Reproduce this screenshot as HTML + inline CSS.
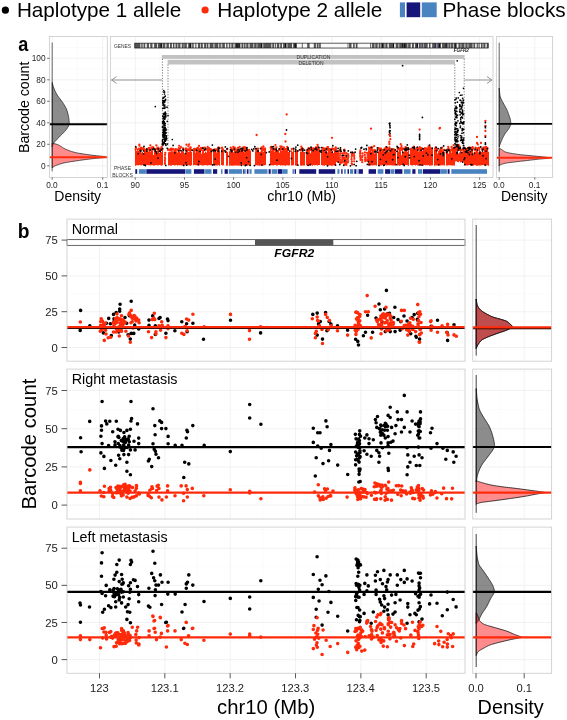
<!DOCTYPE html>
<html><head><meta charset="utf-8"><style>
html,body{margin:0;padding:0;background:#fff;width:567px;height:720px;overflow:hidden;}
svg{display:block;will-change:transform;}
text{font-family:"Liberation Sans", sans-serif;}
</style></head><body>
<svg width="567" height="720" viewBox="0 0 567 720" font-family='"Liberation Sans", sans-serif'>
<rect x="0" y="0" width="567" height="720" fill="#fff" stroke="none" stroke-width="1" />
<circle cx="5.4" cy="10.2" r="3.6" fill="#000"/>
<text x="16.95" y="17.3" font-size="20.3" font-weight="normal" font-style="normal" fill="#000" textLength="164.38" lengthAdjust="spacingAndGlyphs">Haplotype 1 allele</text>
<circle cx="205.1" cy="10.0" r="3.6" fill="#ff2a0a"/>
<text x="217.34" y="17.3" font-size="20.3" font-weight="normal" font-style="normal" fill="#000" textLength="164.99" lengthAdjust="spacingAndGlyphs">Haplotype 2 allele</text>
<rect x="399.9" y="2.4" width="5.1" height="14.8" fill="#4a84c0" stroke="none" stroke-width="1" />
<rect x="406.6" y="2.4" width="13.6" height="14.8" fill="#16167a" stroke="none" stroke-width="1" />
<rect x="421.8" y="2.4" width="14.9" height="14.8" fill="#4a84c0" stroke="none" stroke-width="1" />
<text x="442.44" y="17.1" font-size="20.3" font-weight="normal" font-style="normal" fill="#000" textLength="123.24" lengthAdjust="spacingAndGlyphs">Phase blocks</text>
<rect x="49.4" y="36.5" width="57.9" height="141" fill="#fff" stroke="none" stroke-width="1" />
<line x1="49.4" y1="155.05" x2="107.3" y2="155.05" stroke="#f3f3f3" stroke-width="0.7" stroke-dasharray="1,1"/>
<line x1="49.4" y1="133.55" x2="107.3" y2="133.55" stroke="#f3f3f3" stroke-width="0.7" stroke-dasharray="1,1"/>
<line x1="49.4" y1="112.05" x2="107.3" y2="112.05" stroke="#f3f3f3" stroke-width="0.7" stroke-dasharray="1,1"/>
<line x1="49.4" y1="90.55" x2="107.3" y2="90.55" stroke="#f3f3f3" stroke-width="0.7" stroke-dasharray="1,1"/>
<line x1="49.4" y1="69.05" x2="107.3" y2="69.05" stroke="#f3f3f3" stroke-width="0.7" stroke-dasharray="1,1"/>
<line x1="49.4" y1="47.55" x2="107.3" y2="47.55" stroke="#f3f3f3" stroke-width="0.7" stroke-dasharray="1,1"/>
<line x1="49.4" y1="165.8" x2="107.3" y2="165.8" stroke="#ececec" stroke-width="0.7" />
<line x1="49.4" y1="144.3" x2="107.3" y2="144.3" stroke="#ececec" stroke-width="0.7" />
<line x1="49.4" y1="122.8" x2="107.3" y2="122.8" stroke="#ececec" stroke-width="0.7" />
<line x1="49.4" y1="101.3" x2="107.3" y2="101.3" stroke="#ececec" stroke-width="0.7" />
<line x1="49.4" y1="79.8" x2="107.3" y2="79.8" stroke="#ececec" stroke-width="0.7" />
<line x1="49.4" y1="58.3" x2="107.3" y2="58.3" stroke="#ececec" stroke-width="0.7" />
<line x1="77.45" y1="36.5" x2="77.45" y2="177.5" stroke="#f3f3f3" stroke-width="0.7" stroke-dasharray="1,1"/>
<line x1="52.2" y1="36.5" x2="52.2" y2="177.5" stroke="#ececec" stroke-width="0.7" />
<line x1="102.7" y1="36.5" x2="102.7" y2="177.5" stroke="#ececec" stroke-width="0.7" />
<rect x="110.4" y="36.5" width="382.6" height="141" fill="#fff" stroke="none" stroke-width="1" />
<line x1="110.4" y1="155.05" x2="493" y2="155.05" stroke="#f3f3f3" stroke-width="0.7" stroke-dasharray="1,1"/>
<line x1="110.4" y1="133.55" x2="493" y2="133.55" stroke="#f3f3f3" stroke-width="0.7" stroke-dasharray="1,1"/>
<line x1="110.4" y1="112.05" x2="493" y2="112.05" stroke="#f3f3f3" stroke-width="0.7" stroke-dasharray="1,1"/>
<line x1="110.4" y1="90.55" x2="493" y2="90.55" stroke="#f3f3f3" stroke-width="0.7" stroke-dasharray="1,1"/>
<line x1="110.4" y1="69.05" x2="493" y2="69.05" stroke="#f3f3f3" stroke-width="0.7" stroke-dasharray="1,1"/>
<line x1="110.4" y1="47.55" x2="493" y2="47.55" stroke="#f3f3f3" stroke-width="0.7" stroke-dasharray="1,1"/>
<line x1="110.4" y1="165.8" x2="493" y2="165.8" stroke="#ececec" stroke-width="0.7" />
<line x1="110.4" y1="144.3" x2="493" y2="144.3" stroke="#ececec" stroke-width="0.7" />
<line x1="110.4" y1="122.8" x2="493" y2="122.8" stroke="#ececec" stroke-width="0.7" />
<line x1="110.4" y1="101.3" x2="493" y2="101.3" stroke="#ececec" stroke-width="0.7" />
<line x1="110.4" y1="79.8" x2="493" y2="79.8" stroke="#ececec" stroke-width="0.7" />
<line x1="110.4" y1="58.3" x2="493" y2="58.3" stroke="#ececec" stroke-width="0.7" />
<line x1="110.65" y1="36.5" x2="110.65" y2="177.5" stroke="#f3f3f3" stroke-width="0.7" stroke-dasharray="1,1"/>
<line x1="159.85" y1="36.5" x2="159.85" y2="177.5" stroke="#f3f3f3" stroke-width="0.7" stroke-dasharray="1,1"/>
<line x1="209.05" y1="36.5" x2="209.05" y2="177.5" stroke="#f3f3f3" stroke-width="0.7" stroke-dasharray="1,1"/>
<line x1="258.25" y1="36.5" x2="258.25" y2="177.5" stroke="#f3f3f3" stroke-width="0.7" stroke-dasharray="1,1"/>
<line x1="307.45" y1="36.5" x2="307.45" y2="177.5" stroke="#f3f3f3" stroke-width="0.7" stroke-dasharray="1,1"/>
<line x1="356.65" y1="36.5" x2="356.65" y2="177.5" stroke="#f3f3f3" stroke-width="0.7" stroke-dasharray="1,1"/>
<line x1="405.85" y1="36.5" x2="405.85" y2="177.5" stroke="#f3f3f3" stroke-width="0.7" stroke-dasharray="1,1"/>
<line x1="455.05" y1="36.5" x2="455.05" y2="177.5" stroke="#f3f3f3" stroke-width="0.7" stroke-dasharray="1,1"/>
<line x1="135.25" y1="36.5" x2="135.25" y2="177.5" stroke="#ececec" stroke-width="0.7" />
<line x1="184.45" y1="36.5" x2="184.45" y2="177.5" stroke="#ececec" stroke-width="0.7" />
<line x1="233.65" y1="36.5" x2="233.65" y2="177.5" stroke="#ececec" stroke-width="0.7" />
<line x1="282.85" y1="36.5" x2="282.85" y2="177.5" stroke="#ececec" stroke-width="0.7" />
<line x1="332.05" y1="36.5" x2="332.05" y2="177.5" stroke="#ececec" stroke-width="0.7" />
<line x1="381.25" y1="36.5" x2="381.25" y2="177.5" stroke="#ececec" stroke-width="0.7" />
<line x1="430.45" y1="36.5" x2="430.45" y2="177.5" stroke="#ececec" stroke-width="0.7" />
<line x1="479.65" y1="36.5" x2="479.65" y2="177.5" stroke="#ececec" stroke-width="0.7" />
<rect x="496.4" y="36.5" width="56.2" height="141" fill="#fff" stroke="none" stroke-width="1" />
<line x1="496.4" y1="155.05" x2="552.6" y2="155.05" stroke="#f3f3f3" stroke-width="0.7" stroke-dasharray="1,1"/>
<line x1="496.4" y1="133.55" x2="552.6" y2="133.55" stroke="#f3f3f3" stroke-width="0.7" stroke-dasharray="1,1"/>
<line x1="496.4" y1="112.05" x2="552.6" y2="112.05" stroke="#f3f3f3" stroke-width="0.7" stroke-dasharray="1,1"/>
<line x1="496.4" y1="90.55" x2="552.6" y2="90.55" stroke="#f3f3f3" stroke-width="0.7" stroke-dasharray="1,1"/>
<line x1="496.4" y1="69.05" x2="552.6" y2="69.05" stroke="#f3f3f3" stroke-width="0.7" stroke-dasharray="1,1"/>
<line x1="496.4" y1="47.55" x2="552.6" y2="47.55" stroke="#f3f3f3" stroke-width="0.7" stroke-dasharray="1,1"/>
<line x1="496.4" y1="165.8" x2="552.6" y2="165.8" stroke="#ececec" stroke-width="0.7" />
<line x1="496.4" y1="144.3" x2="552.6" y2="144.3" stroke="#ececec" stroke-width="0.7" />
<line x1="496.4" y1="122.8" x2="552.6" y2="122.8" stroke="#ececec" stroke-width="0.7" />
<line x1="496.4" y1="101.3" x2="552.6" y2="101.3" stroke="#ececec" stroke-width="0.7" />
<line x1="496.4" y1="79.8" x2="552.6" y2="79.8" stroke="#ececec" stroke-width="0.7" />
<line x1="496.4" y1="58.3" x2="552.6" y2="58.3" stroke="#ececec" stroke-width="0.7" />
<line x1="517" y1="36.5" x2="517" y2="177.5" stroke="#f3f3f3" stroke-width="0.7" stroke-dasharray="1,1"/>
<line x1="552.6" y1="36.5" x2="552.6" y2="177.5" stroke="#f3f3f3" stroke-width="0.7" stroke-dasharray="1,1"/>
<line x1="499.2" y1="36.5" x2="499.2" y2="177.5" stroke="#ececec" stroke-width="0.7" />
<line x1="534.8" y1="36.5" x2="534.8" y2="177.5" stroke="#ececec" stroke-width="0.7" />
<line x1="52.2" y1="42.5" x2="52.2" y2="171.3" stroke="#555" stroke-width="0.9"/>
<path d="M52.2,82.5 L52.35,83.08 L52.55,83.87 L52.79,84.81 L53.07,85.85 L53.41,86.93 L53.8,88 L54.24,89.07 L54.72,90.2 L55.26,91.38 L55.84,92.57 L56.49,93.79 L57.2,95 L58.02,96.23 L58.94,97.5 L59.93,98.78 L60.92,100.06 L61.86,101.3 L62.7,102.5 L63.44,103.65 L64.14,104.76 L64.78,105.84 L65.37,106.91 L65.91,107.96 L66.4,109 L66.82,110.04 L67.18,111.07 L67.48,112.09 L67.74,113.09 L67.98,114.06 L68.2,115 L68.4,115.9 L68.57,116.76 L68.71,117.59 L68.82,118.41 L68.92,119.21 L69,120 L69.09,120.78 L69.18,121.54 L69.25,122.28 L69.28,123.02 L69.24,123.76 L69.1,124.5 L68.85,125.26 L68.51,126.04 L68.09,126.81 L67.64,127.57 L67.16,128.31 L66.7,129 L66.25,129.64 L65.78,130.22 L65.3,130.78 L64.8,131.33 L64.26,131.9 L63.7,132.5 L63.08,133.14 L62.41,133.81 L61.72,134.5 L61.02,135.19 L60.34,135.86 L59.7,136.5 L59.1,137.12 L58.52,137.72 L57.96,138.31 L57.42,138.89 L56.9,139.45 L56.4,140 L55.91,140.53 L55.43,141.04 L54.98,141.53 L54.54,142.02 L54.15,142.51 L53.8,143 L53.5,143.52 L53.23,144.07 L53.01,144.62 L52.81,145.15 L52.64,145.62 L52.5,146 L52.39,146.29 L52.31,146.52 L52.27,146.69 L52.24,146.81 L52.22,146.91 L52.2,147 Z" fill="rgba(0,0,0,0.45)" stroke="#1a1a1a" stroke-width="0.7" stroke-linejoin="round"/>
<path d="M52.2,143.2 L52.7,143.31 L53.39,143.46 L54.2,143.63 L55.07,143.83 L55.93,144.06 L56.7,144.3 L57.39,144.56 L58.05,144.84 L58.7,145.14 L59.35,145.47 L60.01,145.82 L60.7,146.2 L61.36,146.61 L61.96,147.04 L62.58,147.5 L63.27,147.98 L64.13,148.48 L65.2,149 L66.49,149.55 L67.94,150.15 L69.54,150.77 L71.29,151.38 L73.18,151.97 L75.2,152.5 L77.4,152.98 L79.81,153.43 L82.36,153.84 L84.98,154.24 L87.61,154.62 L90.2,155 L93.07,155.37 L96.33,155.72 L99.61,156.06 L102.51,156.39 L104.67,156.7 L105.7,157 L105.35,157.28 L103.89,157.54 L101.67,157.78 L99.07,158.02 L96.46,158.26 L94.2,158.5 L92.28,158.74 L90.39,158.96 L88.48,159.19 L86.51,159.43 L84.44,159.69 L82.2,160 L79.68,160.36 L76.9,160.76 L74.01,161.19 L71.16,161.63 L68.51,162.07 L66.2,162.5 L64.24,162.92 L62.5,163.35 L60.95,163.78 L59.57,164.2 L58.33,164.61 L57.2,165 L56.21,165.37 L55.39,165.74 L54.7,166.09 L54.13,166.43 L53.64,166.73 L53.2,167 L52.85,167.24 L52.61,167.44 L52.45,167.62 L52.35,167.78 L52.27,167.9 L52.2,168 Z" fill="rgba(255,0,0,0.45)" stroke="#1a1a1a" stroke-width="0.7" stroke-linejoin="round"/>
<line x1="49.4" y1="124.3" x2="107.3" y2="124.3" stroke="#000" stroke-width="1.9"/>
<line x1="49.4" y1="157.3" x2="107.3" y2="157.3" stroke="#ff2a0a" stroke-width="1.9"/>
<line x1="499.2" y1="42.8" x2="499.2" y2="171.7" stroke="#555" stroke-width="0.9"/>
<path d="M499.2,88 L499.25,88.54 L499.31,89.3 L499.39,90.19 L499.48,91.15 L499.58,92.11 L499.7,93 L499.81,93.81 L499.89,94.58 L499.99,95.36 L500.14,96.16 L500.37,97.03 L500.7,98 L501.19,99.11 L501.81,100.36 L502.51,101.67 L503.23,102.97 L503.91,104.21 L504.5,105.3 L505,106.24 L505.46,107.07 L505.88,107.83 L506.27,108.55 L506.64,109.26 L507,110 L507.33,110.75 L507.63,111.48 L507.91,112.21 L508.18,112.93 L508.44,113.66 L508.7,114.4 L508.97,115.16 L509.25,115.92 L509.52,116.69 L509.77,117.46 L510,118.23 L510.2,119 L510.37,119.78 L510.53,120.58 L510.66,121.37 L510.76,122.16 L510.81,122.9 L510.8,123.6 L510.72,124.24 L510.58,124.85 L510.39,125.42 L510.17,125.96 L509.93,126.49 L509.7,127 L509.48,127.48 L509.25,127.91 L509.01,128.33 L508.75,128.74 L508.45,129.19 L508.1,129.7 L507.68,130.27 L507.2,130.88 L506.69,131.52 L506.16,132.19 L505.66,132.85 L505.2,133.5 L504.79,134.15 L504.39,134.8 L504.02,135.46 L503.66,136.12 L503.32,136.77 L503,137.4 L502.69,138.03 L502.4,138.66 L502.12,139.29 L501.87,139.89 L501.63,140.47 L501.4,141 L501.2,141.48 L501.02,141.91 L500.86,142.32 L500.71,142.71 L500.56,143.1 L500.4,143.5 L500.22,143.93 L500.04,144.39 L499.85,144.84 L499.67,145.28 L499.52,145.67 L499.4,146 L499.32,146.27 L499.27,146.48 L499.24,146.66 L499.22,146.8 L499.21,146.91 L499.2,147 Z" fill="rgba(0,0,0,0.45)" stroke="#1a1a1a" stroke-width="0.7" stroke-linejoin="round"/>
<path d="M499.2,148.3 L499.46,148.43 L499.81,148.6 L500.23,148.81 L500.7,149.04 L501.2,149.31 L501.7,149.6 L502.18,149.93 L502.66,150.32 L503.17,150.73 L503.74,151.15 L504.4,151.55 L505.2,151.9 L506.12,152.21 L507.13,152.49 L508.23,152.75 L509.44,153 L510.76,153.25 L512.2,153.5 L513.63,153.74 L515.03,153.96 L516.54,154.18 L518.31,154.41 L520.48,154.68 L523.2,155 L527.04,155.39 L532,155.85 L537.36,156.34 L542.4,156.84 L546.42,157.3 L548.7,157.7 L548.91,158.03 L547.55,158.33 L545.17,158.59 L542.29,158.84 L539.46,159.07 L537.2,159.3 L535.48,159.52 L533.87,159.72 L532.29,159.91 L530.7,160.09 L529.02,160.29 L527.2,160.5 L525.16,160.73 L522.94,160.99 L520.64,161.24 L518.35,161.5 L516.17,161.76 L514.2,162 L512.42,162.22 L510.76,162.44 L509.2,162.64 L507.76,162.85 L506.42,163.07 L505.2,163.3 L504.09,163.56 L503.09,163.83 L502.2,164.11 L501.42,164.39 L500.76,164.66 L500.2,164.9 L499.79,165.12 L499.53,165.34 L499.39,165.55 L499.31,165.73 L499.26,165.89 L499.2,166 Z" fill="rgba(255,0,0,0.45)" stroke="#1a1a1a" stroke-width="0.7" stroke-linejoin="round"/>
<line x1="496.4" y1="123.9" x2="552.6" y2="123.9" stroke="#000" stroke-width="1.9"/>
<line x1="496.4" y1="157.7" x2="552.6" y2="157.7" stroke="#ff2a0a" stroke-width="1.9"/>
<text x="114.06" y="47.6" font-size="5.2" font-weight="normal" font-style="normal" fill="#333" textLength="17.07" lengthAdjust="spacingAndGlyphs">GENES</text>
<rect x="134.8" y="43.2" width="353.4" height="4.8" fill="#555" stroke="#1a1a1a" stroke-width="0.8"/>
<rect x="296.8" y="43.6" width="5" height="4" fill="#fafafa"/>
<rect x="302.7" y="43.6" width="4.5" height="4" fill="#fafafa"/>
<rect x="309.6" y="43.6" width="4.2" height="4" fill="#fafafa"/>
<rect x="320.8" y="43.6" width="26.8" height="4" fill="#fafafa"/>
<rect x="357.5" y="43.6" width="12.7" height="4" fill="#fafafa"/>
<rect x="140.11" y="43.6" width="1.3" height="4" fill="#bdbdbd"/>
<rect x="142.65" y="43.6" width="0.9" height="4" fill="#f4f4f4"/>
<rect x="145.2" y="43.6" width="1.6" height="4" fill="#f4f4f4"/>
<rect x="148.96" y="43.6" width="1.3" height="4" fill="#f4f4f4"/>
<rect x="152.49" y="43.6" width="1.6" height="4" fill="#f4f4f4"/>
<rect x="157.09" y="43.6" width="0.9" height="4" fill="#f4f4f4"/>
<rect x="160.53" y="43.6" width="1.48" height="4" fill="#111"/>
<rect x="162" y="43.6" width="0.9" height="4" fill="#bdbdbd"/>
<rect x="165.31" y="43.6" width="1.1" height="4" fill="#f4f4f4"/>
<rect x="168.9" y="43.6" width="1.1" height="4" fill="#f4f4f4"/>
<rect x="171.88" y="43.6" width="1.1" height="4" fill="#f4f4f4"/>
<rect x="174.42" y="43.6" width="1.1" height="4" fill="#f4f4f4"/>
<rect x="177.17" y="43.6" width="1.1" height="4" fill="#bdbdbd"/>
<rect x="180.46" y="43.6" width="1.3" height="4" fill="#f4f4f4"/>
<rect x="183.6" y="43.6" width="0.7" height="4" fill="#bdbdbd"/>
<rect x="186.84" y="43.6" width="1.3" height="4" fill="#f4f4f4"/>
<rect x="189.58" y="43.6" width="1.58" height="4" fill="#111"/>
<rect x="191.16" y="43.6" width="1.1" height="4" fill="#bdbdbd"/>
<rect x="193.71" y="43.6" width="1.6" height="4" fill="#f4f4f4"/>
<rect x="196.38" y="43.6" width="1.6" height="4" fill="#f4f4f4"/>
<rect x="200.01" y="43.6" width="0.7" height="4" fill="#f4f4f4"/>
<rect x="202.81" y="43.6" width="1.3" height="4" fill="#f4f4f4"/>
<rect x="206.03" y="43.6" width="0.9" height="4" fill="#bdbdbd"/>
<rect x="208.35" y="43.6" width="1.3" height="4" fill="#f4f4f4"/>
<rect x="213.52" y="43.6" width="0.9" height="4" fill="#f4f4f4"/>
<rect x="218.27" y="43.6" width="0.9" height="4" fill="#f4f4f4"/>
<rect x="220.73" y="43.6" width="1.6" height="4" fill="#bdbdbd"/>
<rect x="224.88" y="43.6" width="1.3" height="4" fill="#f4f4f4"/>
<rect x="227.56" y="43.6" width="1.3" height="4" fill="#f4f4f4"/>
<rect x="229.92" y="43.6" width="1.6" height="4" fill="#bdbdbd"/>
<rect x="233.45" y="43.6" width="1.1" height="4" fill="#f4f4f4"/>
<rect x="236.23" y="43.6" width="1.35" height="4" fill="#111"/>
<rect x="237.58" y="43.6" width="0.86" height="4" fill="#111"/>
<rect x="239.3" y="43.6" width="0.83" height="4" fill="#111"/>
<rect x="240.13" y="43.6" width="1.6" height="4" fill="#bdbdbd"/>
<rect x="243.04" y="43.6" width="1.1" height="4" fill="#bdbdbd"/>
<rect x="245.55" y="43.6" width="0.7" height="4" fill="#f4f4f4"/>
<rect x="248.44" y="43.6" width="1.1" height="4" fill="#f4f4f4"/>
<rect x="253.11" y="43.6" width="1.1" height="4" fill="#bdbdbd"/>
<rect x="256.5" y="43.6" width="0.9" height="4" fill="#bdbdbd"/>
<rect x="260.9" y="43.6" width="1.33" height="4" fill="#111"/>
<rect x="262.23" y="43.6" width="1.1" height="4" fill="#bdbdbd"/>
<rect x="271.38" y="43.6" width="0.9" height="4" fill="#f4f4f4"/>
<rect x="274.2" y="43.6" width="0.9" height="4" fill="#f4f4f4"/>
<rect x="275.97" y="43.6" width="0.9" height="4" fill="#f4f4f4"/>
<rect x="279.28" y="43.6" width="0.9" height="4" fill="#f4f4f4"/>
<rect x="281.97" y="43.6" width="1.1" height="4" fill="#f4f4f4"/>
<rect x="284.97" y="43.6" width="1.04" height="4" fill="#111"/>
<rect x="286.51" y="43.6" width="1.1" height="4" fill="#bdbdbd"/>
<rect x="292.06" y="43.6" width="1.1" height="4" fill="#f4f4f4"/>
<rect x="294.57" y="43.6" width="1.76" height="4" fill="#111"/>
<rect x="315.89" y="43.6" width="0.9" height="4" fill="#f4f4f4"/>
<rect x="318.28" y="43.6" width="0.9" height="4" fill="#bdbdbd"/>
<rect x="348.38" y="43.6" width="0.7" height="4" fill="#f4f4f4"/>
<rect x="351.5" y="43.6" width="1.6" height="4" fill="#f4f4f4"/>
<rect x="354.68" y="43.6" width="1.1" height="4" fill="#f4f4f4"/>
<rect x="371.16" y="43.6" width="0.9" height="4" fill="#f4f4f4"/>
<rect x="374.32" y="43.6" width="1.1" height="4" fill="#bdbdbd"/>
<rect x="377.42" y="43.6" width="1.6" height="4" fill="#bdbdbd"/>
<rect x="380.26" y="43.6" width="0.9" height="4" fill="#bdbdbd"/>
<rect x="381.98" y="43.6" width="1.07" height="4" fill="#111"/>
<rect x="384.34" y="43.6" width="1.1" height="4" fill="#bdbdbd"/>
<rect x="387.54" y="43.6" width="1.3" height="4" fill="#f4f4f4"/>
<rect x="393.01" y="43.6" width="1.14" height="4" fill="#111"/>
<rect x="394.15" y="43.6" width="1.6" height="4" fill="#f4f4f4"/>
<rect x="398.49" y="43.6" width="0.7" height="4" fill="#f4f4f4"/>
<rect x="402.2" y="43.6" width="0.81" height="4" fill="#111"/>
<rect x="403.94" y="43.6" width="1.51" height="4" fill="#111"/>
<rect x="407.32" y="43.6" width="0.9" height="4" fill="#bdbdbd"/>
<rect x="410.66" y="43.6" width="1.3" height="4" fill="#f4f4f4"/>
<rect x="413.93" y="43.6" width="1.1" height="4" fill="#f4f4f4"/>
<rect x="416.69" y="43.6" width="1.3" height="4" fill="#111"/>
<rect x="417.98" y="43.6" width="0.9" height="4" fill="#f4f4f4"/>
<rect x="420.66" y="43.6" width="0.9" height="4" fill="#8a90c8"/>
<rect x="423.31" y="43.6" width="0.7" height="4" fill="#bdbdbd"/>
<rect x="427.7" y="43.6" width="1.3" height="4" fill="#f4f4f4"/>
<rect x="430.54" y="43.6" width="1.6" height="4" fill="#f4f4f4"/>
<rect x="434.91" y="43.6" width="0.92" height="4" fill="#111"/>
<rect x="435.83" y="43.6" width="1.6" height="4" fill="#8a90c8"/>
<rect x="438.8" y="43.6" width="1.29" height="4" fill="#111"/>
<rect x="440.96" y="43.6" width="1.1" height="4" fill="#f4f4f4"/>
<rect x="445.59" y="43.6" width="1.05" height="4" fill="#111"/>
<rect x="447.66" y="43.6" width="0.9" height="4" fill="#bdbdbd"/>
<rect x="450.18" y="43.6" width="0.9" height="4" fill="#bdbdbd"/>
<rect x="453.06" y="43.6" width="0.7" height="4" fill="#f4f4f4"/>
<rect x="454.78" y="43.6" width="1.04" height="4" fill="#111"/>
<rect x="456.8" y="43.6" width="1.6" height="4" fill="#f4f4f4"/>
<rect x="460.5" y="43.6" width="0.9" height="4" fill="#bdbdbd"/>
<rect x="464.23" y="43.6" width="1.3" height="4" fill="#bdbdbd"/>
<rect x="467.43" y="43.6" width="1.1" height="4" fill="#bdbdbd"/>
<rect x="472.34" y="43.6" width="1.3" height="4" fill="#bdbdbd"/>
<rect x="475.09" y="43.6" width="1.6" height="4" fill="#f4f4f4"/>
<rect x="477.82" y="43.6" width="0.7" height="4" fill="#f4f4f4"/>
<rect x="479.68" y="43.6" width="1.3" height="4" fill="#f4f4f4"/>
<rect x="482.41" y="43.6" width="1.1" height="4" fill="#bdbdbd"/>
<rect x="485.42" y="43.6" width="1.3" height="4" fill="#f4f4f4"/>
<text x="453.71" y="51.9" font-size="5.2" font-weight="bold" font-style="italic" fill="#222" textLength="15.25" lengthAdjust="spacingAndGlyphs">FGFR2</text>
<rect x="161.8" y="55" width="302.8" height="3.9" fill="#c2c2c2"/>
<rect x="167.6" y="59.8" width="287.4" height="4.7" fill="#c2c2c2"/>
<text x="296.49" y="58.9" font-size="4.8" font-weight="normal" font-style="normal" fill="#333" textLength="33.83" lengthAdjust="spacingAndGlyphs">DUPLICATION</text>
<text x="298.6" y="64.5" font-size="4.8" font-weight="normal" font-style="normal" fill="#333" textLength="25.01" lengthAdjust="spacingAndGlyphs">DELETION</text>
<line x1="162.4" y1="58.9" x2="162.4" y2="146" stroke="#333" stroke-width="0.7" stroke-dasharray="1.1,1.6"/>
<line x1="168" y1="64.5" x2="168" y2="146" stroke="#333" stroke-width="0.7" stroke-dasharray="1.1,1.6"/>
<line x1="454.8" y1="64.5" x2="454.8" y2="148" stroke="#333" stroke-width="0.7" stroke-dasharray="1.1,1.6"/>
<line x1="464.2" y1="58.9" x2="464.2" y2="148" stroke="#333" stroke-width="0.7" stroke-dasharray="1.1,1.6"/>
<g stroke="#8a8a8a" stroke-width="0.9" fill="none"><line x1="111.5" y1="80" x2="162" y2="80"/><polyline points="116.5,76.6 111.5,80 116.5,83.4"/><line x1="464.5" y1="80" x2="492" y2="80"/><polyline points="487,76.6 492,80 487,83.4"/></g>
<path d="M135.5 149.01V165.65M136.5 151.09V165.33M137.5 148.87V165.13M138.5 150.51V165.36M139.5 149.02V165.07M140.5 148.92V165.21M141.5 152.59V165.49M142.5 151.88V165.03M143.5 153.94V165.46M144.5 150.22V165.43M145.5 150.72V165.37M146.5 150.79V165.04M147.5 150.96V165.02M148.5 151.5V165.32M149.5 148.27V165.36M150.5 151.51V165.45M151.5 148.68V165.32M152.5 150.6V165.19M153.5 154.89V165.59M154.5 150.54V165.5M155.5 150.23V165.2M156.5 151.46V165.05M157.5 150.73V165.59M158.5 149.29V165.27M159.5 153.03V165M160.5 149.94V165.15M161.5 151.84V165.69M162.5 149.82V165.28M168.5 152.24V165.54M169.5 151.41V165.19M170.5 151.6V165.67M171.5 151.21V165.53M172.5 151.32V165.07M173.5 151.26V165.04M174.5 150.84V165.39M175.5 149.82V165.31M176.5 151.37V165.09M177.5 152.56V165.45M178.5 151.61V165.15M179.5 151.51V165.19M180.5 152.91V165.21M181.5 150.17V165.62M182.5 150.92V165.6M183.5 151.86V165.45M184.5 153.76V165.15M185.5 152.91V165.18M186.5 150.76V165.21M187.5 149.45V165.05M188.5 152.05V165.17M189.5 151.52V165.42M190.5 149.61V165.67M191.5 151.63V165.34M193.5 148.27V165.13M194.5 149.42V165.11M195.5 152.61V165.17M196.5 149.29V165.13M197.5 150.39V165.14M198.5 147.52V165.67M199.5 151.91V165.3M200.5 149.41V165.07M201.5 153.84V165.17M202.5 151.4V165.49M203.5 150.49V165.42M204.5 153.02V165.21M205.5 151.54V165.05M206.5 152.45V165.16M207.5 148.23V165.43M208.5 149.67V165.2M209.5 151.36V165.01M210.5 150.16V165.19M211.5 150.17V165.12M213.5 150.75V165.26M214.5 149.98V165.25M215.5 150.3V165.62M216.5 152.49V165.48M217.5 150.37V165.41M218.5 150.82V165.01M219.5 150.87V165.64M221.5 149.59V165.01M222.5 147.42V165.45M223.5 148.51V165.22M226.5 150.83V165.7M227.5 152.05V165.52M229.5 151.34V165.63M230.5 150.44V165.56M231.5 148.58V165.64M232.5 149.42V165.63M233.5 152.19V165.61M234.5 148.61V165.6M235.5 151.74V165.4M236.5 149.7V165.41M237.5 149.7V165.43M238.5 152.23V165.7M239.5 151.5V165.62M240.5 150.42V165.51M241.5 149.32V165.41M242.5 148.29V165.06M243.5 151.51V165.53M244.5 152.33V165.34M245.5 150.93V165.16M246.5 150.11V165.43M247.5 149.16V165.64M248.5 150.59V165.21M249.5 150.8V165.47M250.5 150.83V165.63M255.5 151.36V165.46M256.5 148.04V165.23M257.5 151.58V165.47M258.5 151.04V165.56M259.5 151.91V165.64M260.5 151.53V165.41M261.5 149.72V165.22M262.5 151.6V165.59M263.5 151.75V165.59M264.5 149.83V165.19M265.5 147.51V165.12M270.5 149.61V165.15M271.5 150.92V165.29M272.5 149.53V165.22M273.5 149.52V165.59M274.5 152.02V165.05M275.5 150.44V165.02M276.5 150.86V165.5M277.5 150.33V165.4M278.5 149.77V165.01M279.5 152.75V165.1M280.5 150.32V165.58M281.5 150.68V165.17M282.5 150.86V165.44M283.5 150.91V165.31M284.5 149.3V165.57M285.5 149.22V165.67M286.5 150.25V165.33M287.5 149.81V165.13M288.5 152.07V165.5M289.5 150.7V165.13M291.5 150.43V165.49M292.5 151.79V165.36M293.5 148.96V165.28M295.5 149.16V165.55M296.5 151.06V165.65M297.5 150.29V165.51M300.5 151.58V165.44M301.5 151.64V165.64M302.5 149.39V165.62M303.5 151.78V165.56M304.5 151.96V165.46M306.5 150.1V165.14M307.5 150.18V165.45M308.5 148.24V165.5M309.5 151.24V165.69M310.5 153.32V165.68M311.5 148.36V165.22M312.5 150.07V165.64M313.5 151.34V165.06M314.5 149.65V165.31M315.5 148.49V165.34M316.5 149.91V165.02M317.5 150.77V165.56M318.5 150.16V165.12M319.5 149.43V165.1M321.5 152.57V165.1M322.5 148.53V165.59M323.5 150.38V165.48M324.5 152.03V165.66M325.5 150.09V165.06M326.5 150.88V165.2M327.5 152.16V165.51M328.5 149.58V165.59M329.5 149.39V165.39M330.5 150.12V165.59M331.5 151.78V165.63M332.5 151.26V165.68M333.5 153.05V165.37M334.5 149.82V165.38M335.5 150.21V165.35M368.5 150.36V165.68M369.5 150.41V165.36M370.5 148.7V165.39M371.5 151.97V165.34M372.5 150.43V165.38M373.5 150.15V165.29M374.5 153.44V165.19M375.5 149.81V165.33M376.5 151.57V165.57M378.5 151.59V165.63M379.5 149.48V165.13M380.5 150.77V165.43M381.5 151.21V165.55M382.5 150.29V165.02M383.5 150.92V165.48M384.5 151.48V165.23M385.5 149.49V165.07M386.5 152.03V165.51M387.5 151.71V165.18M388.5 151.68V165.14M389.5 149.23V165.26M390.5 150.34V165.29M391.5 149.85V165.14M392.5 150.46V165.44M393.5 149.57V165.6M394.5 149.38V165.43M395.5 151.19V165.52M397.5 149.86V165.57M398.5 151.53V165.22M399.5 149.95V165.65M400.5 151.53V165.62M401.5 155.16V165.09M402.5 150.74V165.18M403.5 152.69V165.07M404.5 151.27V165.55M405.5 149.42V165.09M406.5 148.98V165.01M407.5 151.73V165.14M408.5 149.42V165.68M410.5 147.99V165.08M411.5 148.41V165.35M412.5 150.52V165.48M413.5 150.79V165.07M414.5 151.06V165.03M415.5 149.12V165.4M416.5 150.1V165.1M417.5 150.95V165.59M418.5 151.4V165.69M419.5 151.12V165.04M420.5 150.34V165.67M421.5 148.45V165.23M422.5 151.12V165.33M423.5 149.23V165.42M424.5 150.47V165.01M425.5 149.84V165.13M426.5 148.21V165.32M427.5 150.51V165.14M428.5 149.28V165.12M429.5 150.37V165.63M430.5 150.58V165.56M431.5 149.87V165.44M432.5 148.12V165.28M434.5 149.35V165.69M435.5 149.7V165.56M436.5 150.45V165.52M437.5 153.46V165.54M438.5 151.12V165.63M439.5 149.38V165.62M440.5 149.85V165.54M441.5 148.51V165.28M442.5 150.51V165.24M443.5 150.11V165.33M444.5 151.82V165.45M446.5 150.68V165.44M447.5 150.95V165.47M448.5 153.71V165.24M449.5 149.69V165.37M450.5 149.18V165.27M451.5 152.46V165.49M452.5 150.6V165.53M453.5 150.88V165.43M454.5 150.57V165.52M455.5 150.55V161.39M456.5 151.92V161.2M457.5 150.58V162.02M458.5 153.42V162.14M459.5 152.45V161.15M460.5 150.54V162.52M461.5 153.48V161.94M462.5 151.44V161.99M463.5 150.25V161.84M464.5 150.31V165.37M465.5 149.59V165.2M466.5 149.88V165.46M467.5 149.61V165.5M468.5 150.21V165.21M469.5 151.57V165.03M470.5 150.69V165.11M471.5 150.64V165.63M472.5 149.31V165.52M473.5 154.3V165.66M474.5 151.81V165.05M475.5 151.74V165.33M476.5 149.83V165.68M477.5 150.66V165.66M478.5 152.18V165.51M479.5 147.06V165.57M480.5 151.31V165.42M481.5 151.96V165.32M482.5 151.8V165.14M483.5 152.11V165.09M484.5 151.11V165.31M485.5 149.89V165.18M486.5 149.35V165.41M487.5 148.63V165.37M488.5 151.69V165.7" stroke="#ff2a0a" stroke-width="1.06" fill="none"/>
<path d="M471.59 150.45h0M175.67 149.13h0M450.44 150h0M262.22 147.86h0M231.29 149.58h0M401.28 148.23h0M202.47 150.56h0M458.57 145.02h0M149.44 149.12h0M285.51 150.01h0M171.65 149.85h0M374.09 150.4h0M329.76 149.29h0M209.81 149.18h0M256.76 150.48h0M161.73 146.78h0M177.76 149.58h0M406.72 147.99h0M210.7 149.23h0M421.22 149.89h0M484.48 149.45h0M398.73 148.36h0M460.37 148.87h0M169.73 149.76h0M444.26 149.87h0M334.56 150.21h0M240.94 150.47h0M210.74 149.81h0M369.09 149.12h0M391.28 149.76h0M380.34 150.37h0M261.73 149.51h0M391.62 149.93h0M385.73 149.86h0M459.57 146.49h0M418.82 148.97h0M243.02 149.77h0M465.25 148.76h0M451.16 150.58h0M264.47 148.7h0M263.68 149.03h0M204.28 149.39h0M334.41 149.87h0M430.57 148.21h0M334.05 149.1h0M234.8 147.58h0M143.34 148.11h0M335.7 150.35h0M476.45 148.5h0M158.1 147.66h0M328.42 150.4h0M452.69 149.79h0M186.26 150.52h0M222.09 147.71h0M405.52 147.23h0M274.64 150.14h0M477.11 149.51h0M325.07 148.54h0M389.85 149.45h0M280.36 146.31h0M426.99 148.64h0M419.82 147.2h0M429.67 146.75h0M386.02 147.36h0M418.54 148.76h0M187.08 149.61h0M485.13 149.74h0M207.6 149.75h0M285.42 149.22h0M156.39 145.49h0M244.32 148.43h0M198.8 148.69h0M157.5 148.04h0M456.3 149.92h0M148.33 149.61h0M218.55 149.79h0M388.54 149.42h0M200.76 149.8h0M234.66 149.02h0M245.48 147.62h0M328.92 149.66h0M448.58 148.51h0M458.05 149.22h0M473.14 148.49h0M153.04 147.2h0M271.32 149.44h0M317.48 149.66h0M139.34 144.59h0M302.25 148.13h0M387.15 148.02h0M190.99 149.63h0M227.02 149.13h0M442.17 147.77h0M485.87 150.31h0M324.1 148.59h0M135.98 147.82h0M425.3 148.49h0M230.73 147.54h0M388.29 148.73h0M300.84 149.29h0M472.6 147.22h0M242.61 148.56h0M413.97 146.73h0M427.03 148.38h0M209.03 148.25h0M191.08 149.94h0M429.03 149.95h0M162.32 149h0M243.35 147.5h0M262.41 149.95h0M172.81 148.85h0M476.63 149.23h0M428.23 150.42h0M385.99 150.34h0M334.52 150.32h0M485.35 150.52h0M417.55 149.86h0M237.95 147.93h0M325.93 150.06h0M273.87 148.87h0M370.71 150.55h0M393.55 149.27h0M468.91 147.64h0M427.23 149.37h0M168.05 150.04h0M374.59 149.91h0M385.38 149.73h0M430.77 148.76h0M215.44 150.03h0M279.03 149.74h0M161.14 148.75h0M315.98 149.59h0M406.05 149.75h0M280.9 148.82h0M140.94 148.08h0M481.93 148.79h0M414.1 149.14h0M142.04 148.28h0M256.24 150.05h0M315.2 149.83h0M413.7 149.35h0M405.93 148.15h0M454.08 148.82h0M312.05 150.04h0M185.51 149.26h0M317.56 144.87h0M387.89 149.92h0M468.86 149.46h0M205.32 149.3h0M381.44 149.85h0M463.27 149.17h0M179.26 148.89h0M478.98 147.75h0M327.22 147.34h0M333.32 149.14h0M456.31 150.02h0M485.52 149.48h0M178.77 148.13h0M426.44 149.58h0M428.59 146.46h0M200.97 149.84h0M146.8 150.36h0M199.03 145.88h0M244.04 150.21h0M372.31 150.45h0M419.09 148.64h0M141.27 149.9h0M185.95 148.46h0M271.81 149.48h0M318.88 150.08h0M335.9 149.19h0M148.86 148.11h0M372.23 147.49h0M301.28 146.61h0M280.65 148.42h0M402.93 148.45h0M400.71 144.16h0M431.23 150.02h0M437.16 148.81h0M335.17 149.45h0M454.87 148.19h0M287.99 150.2h0M454.53 150.31h0M391.49 149.99h0M453.07 150.3h0M400.77 147.92h0M243.02 149.97h0M179.4 150.18h0M312.83 150.08h0M380.66 150.21h0M243.56 149.44h0M159.65 149.7h0M457 147.7h0M441.2 149.98h0M284.17 150.12h0M398.91 149.27h0M335.47 149.85h0M415.04 150.08h0M179.18 145.82h0M135.7 149.45h0M241.08 150.27h0M451.3 149.96h0M423.19 149.1h0M151.69 149.47h0M146.48 149.22h0M311.34 149.58h0M464.99 148.36h0M208.36 150.28h0M239.7 146.83h0M204.47 148.61h0M431.12 149.22h0M196.14 148.81h0M486.68 149.76h0M203.06 147.9h0M153.14 148.07h0M245.92 148.61h0M453.13 148.44h0M183.09 148.29h0M381.03 148.59h0M214.26 149.77h0M243.87 150.28h0M199.36 149.32h0M218.57 148.79h0M369.06 147.56h0M447.53 149.38h0M241.67 149.83h0M462.46 149.8h0M482.31 149.2h0M322.77 148h0M235.89 149.84h0M418.88 149.2h0M402.1 149.75h0M222.25 150.14h0M201.25 148.12h0M451.97 150.08h0M400.31 150.56h0M271.23 148.47h0M198.97 149.59h0M331.66 149.44h0M411.74 149.11h0M317.8 146.74h0M319.14 150.46h0M471.2 149h0M218.53 147.51h0M413 150.23h0M308.06 149.18h0M311.53 147.97h0M387.65 150.01h0M443.45 150.11h0M141.78 149.56h0M310.53 148.62h0M417.22 149.74h0M161.09 148.43h0M327.15 149.17h0M414.78 150.52h0M245.22 149.48h0M150.43 149.5h0M424.99 148.04h0M196.04 150.56h0M379.17 149.42h0M428.65 150.44h0M280.37 149.91h0M264.07 149.49h0M150.36 145.41h0M308.21 150.19h0M186.51 144.76h0M296.14 150.58h0M449.52 150.03h0M185.44 149.28h0M285.24 149.55h0M162.48 144.09h0M404.78 149.18h0M394.48 150.41h0M330.21 149.08h0M464.47 149.41h0M481.68 149.23h0M149.5 148.22h0M156.15 148.94h0M256.58 149.24h0M448.21 146.84h0M274.13 149.52h0M411.16 148.97h0M211.49 149.87h0M329.38 149.56h0M207.35 150.1h0M244.35 148.41h0M485.94 148.88h0M207.68 147h0M270.61 147.85h0M263.5 149.25h0M232.35 149.34h0M274.14 150.45h0M461.33 150.26h0M262.9 149.06h0M189.66 148.86h0M405.63 149.87h0M390.73 150.26h0M249.13 150.38h0M271.12 147.01h0M407.41 148.53h0M318.71 148.72h0M149.9 149.92h0M188.73 150.18h0M245.67 150.31h0M285.11 149.56h0M384.79 150.3h0M391.45 150.03h0M207.76 149.62h0M234.41 150.13h0M271.86 148.62h0M441.01 150.35h0M257.2 148.96h0M211.62 150.17h0M335.16 150.49h0M420.83 148.94h0M372.05 150.34h0M459.75 149.96h0M370.67 147.61h0M472.47 149.61h0M286.39 149.52h0M273.95 148.77h0M310.88 149.87h0M234.22 149.5h0M303.16 148.9h0M194.32 149.85h0M168.33 149.32h0M256.1 149.59h0M382.94 150.06h0M330.67 150.47h0M273.58 150.19h0M264.02 148.72h0M154.77 149.82h0M310.33 148.67h0M143.8 149.44h0M257.95 148.59h0M371.19 148.98h0M201.12 147.89h0M472.3 150.07h0M263.43 146.36h0M407.68 148.4h0M280.49 149.21h0M428.18 149.79h0M456.41 149.55h0M314.4 150.34h0M244.38 147.09h0M188.37 146.38h0M203.4 150.19h0M218.25 147.61h0M135.83 148.67h0M309.65 150.06h0M328.88 148.78h0M428.71 148.79h0M477.3 149.68h0M448.2 149h0M246.05 149.95h0M475.57 147.59h0M426.34 149.1h0M308.6 148.25h0M334.41 149.48h0M399.74 149.4h0M323.89 150.48h0M198.22 149.09h0M316.75 150.09h0M159.73 150.09h0M171.57 150.33h0M407.9 149.66h0M441.13 150.15h0M314.53 150.12h0M416.49 148.13h0M388.01 148.61h0M403.37 148.53h0M335.7 147.46h0M283.89 149.85h0M428.68 147.91h0M418.18 149.23h0M371.65 149.22h0M217.01 150.47h0M467.49 150.3h0M477.87 148.56h0M283.43 148.33h0M275.46 145.12h0M152.68 148.16h0M387.14 150.17h0M236.42 150.2h0M393.48 149.59h0M144.86 150.56h0M326.92 148.68h0M244.59 150.39h0M417.91 149.74h0M273.69 149.21h0M405.52 148.63h0M380.36 150.36h0M328.11 150.25h0M197.27 149.53h0M173.29 149.21h0M307.76 149.98h0M177.97 150.42h0M335.16 150.25h0M186.18 149.47h0M215.78 149.47h0M264.57 150.56h0M158.21 149.95h0M450.43 150.31h0M199.88 149.85h0M487.3 149.41h0M281.76 146.76h0M420.21 150.05h0M329.74 150.18h0M233.26 146.89h0M486.29 149.1h0M291.86 148.99h0M197.54 147.82h0M144.95 150.11h0M161.84 149.72h0M262.13 150.56h0M316.93 148.88h0M139.19 149.35h0M139.39 145.7h0M421.31 149.74h0M276.36 147.45h0M418.83 149h0M483.34 147.58h0M171.08 148.67h0M384.32 149.98h0M456.42 148.01h0M215.67 150.21h0M272.53 148.61h0M421.54 148.46h0M264.16 149.39h0M234.01 149.17h0M454.84 150.21h0M210.06 149.8h0M397.7 147.71h0M198.05 149.73h0M172.83 149.44h0M287.47 149.15h0M138.83 148.57h0M248.92 150.57h0M325 149.31h0M248.71 150.2h0M401.56 146h0M287.24 146.87h0M475.13 150.21h0M384.59 148.59h0M198.23 150.16h0M469.84 147.62h0M249.18 149.84h0M484.59 148.88h0M187.76 149.31h0M210.4 149.14h0M448.66 148.86h0M313.61 148.39h0M335.8 147.73h0M378.87 148.09h0M370.27 148.88h0M216.65 149.64h0M317.27 147.85h0M464.17 150.04h0M189.1 144.43h0M245.91 149.37h0M484.57 147.32h0M180.2 148.28h0M484.8 149.14h0M431.93 150.52h0M466.32 148.89h0M315.99 147.46h0M486.07 146.89h0M386.57 149h0M420.27 148.22h0M440.87 149.89h0M204.65 150.07h0M161.45 147.78h0M331.3 150.06h0M417.73 148.34h0M437.16 150.27h0M455.03 148.1h0M416.6 149.5h0M170.9 149.04h0M148.48 148.33h0M429.69 147.3h0M176.92 149.77h0M435.1 148.8h0M453.65 145.26h0M208.44 148.01h0M392.22 149.63h0M287.47 147.79h0M140.92 149.67h0M233.77 149.13h0M380.64 150.16h0M380.26 149.65h0M181.05 147.05h0M261.64 147.43h0M204.7 147.53h0M262.62 150.5h0M244.96 149.66h0M285.34 149.99h0M424.85 148.74h0M314.19 149.4h0M467.72 148.82h0M218.43 148.04h0M236 149.46h0M436.96 149.42h0M374.23 146.13h0M272.26 149.3h0M397.73 148.85h0M158.15 149.3h0M283.36 150.18h0M472.25 148.48h0M238.85 149.59h0M221.84 147.79h0M280.69 147.73h0M283.9 147.46h0M256.01 148.93h0M328.1 147.08h0M170.58 149.92h0M263.77 150.08h0M390.6 149.71h0M452.28 149h0M470.54 147.8h0M301.03 150.19h0M263.12 148.9h0M372.18 150.22h0M477.86 144.4h0M274.91 149.68h0M427.85 148.77h0M487.46 148.09h0M158.98 148.63h0M484.69 150.12h0M209.39 149.84h0M274.73 149.79h0M194.37 148.94h0M421.7 148.35h0M393.35 150.44h0M300.84 149.6h0M141.07 147.54h0M451.54 146.89h0M144.03 149.13h0M323.78 148.61h0M174.74 150.19h0M314.48 148.96h0M179.46 149.64h0M316.2 150.16h0M239.21 150.34h0M281.53 149.12h0M154.66 150.16h0M332.4 148.45h0M435.64 147.51h0M190.13 148.22h0M477.83 148.58h0M440.27 150.28h0M475.52 150.35h0M189.74 150.45h0M424.24 150.29h0M190.73 147.46h0M322.86 149.65h0M241.61 150.43h0M476.38 148.18h0M151.76 147.56h0M282.31 149.23h0M174.92 149.87h0M165.26 152.92h0M165 154.88h0M164.93 157.33h0M165.14 158.88h0M164.92 160.37h0M164.98 162.11h0M164.95 163.75h0M336.43 152.29h0M336.52 153.53h0M336.59 155.11h0M336.75 156.55h0M336.31 158.38h0M336.88 160.09h0M336.66 161.2h0M338.49 151.21h0M338.32 153.2h0M338.44 155.04h0M338.16 157.27h0M338.28 158.51h0M338.61 160.02h0M338.65 161.76h0M340.39 149.51h0M340.08 151.11h0M340.36 153.43h0M339.92 155.5h0M339.92 157.74h0M340.22 159.78h0M340.27 162.27h0M340.45 163.4h0M342.32 153.42h0M342.46 156h0M342.38 157.21h0M342.36 158.97h0M342.18 160.64h0M341.98 162.39h0M344.47 149.7h0M344.14 151.62h0M344.26 152.89h0M344.41 155.43h0M344.2 157.91h0M344.39 159.63h0M344.14 161.99h0M344.35 164.4h0M346.25 153.05h0M346.19 155.18h0M346.02 157.45h0M346.06 159.66h0M346.08 161.64h0M346.06 163.26h0M346.31 164.88h0M348.16 154.05h0M348.4 155.87h0M348.23 157.47h0M347.96 158.92h0M348.15 161.11h0M347.85 162.6h0M352.08 152.36h0M351.83 154.14h0M351.99 155.59h0M351.72 156.84h0M351.56 159.21h0M351.88 161.36h0M351.74 163.29h0M352.11 164.61h0M353.88 153.7h0M354.13 155.61h0M354.22 156.89h0M354.3 158.86h0M354.18 161.35h0M360.36 150.5h0M360.21 151.98h0M360.11 153.45h0M360.2 155.28h0M360.2 156.81h0M360.56 158.67h0M360.55 160.01h0M362.48 153.4h0M362.55 155.88h0M362.12 157.37h0M362.3 159.88h0M362.22 162.16h0M364.84 152.4h0M364.77 154.92h0M365.09 157.43h0M365.24 158.64h0M365.04 159.89h0M365.29 161.17h0M367 153h0M367.57 154.95h0M367.5 157.08h0M367.3 159.36h0M367.3 160.58h0M286.7 114.4h0M256.6 135h0M285.3 134h0M285.5 141.5h0M371 128.7h0M332 137.8h0M419.6 129.6h0M439.5 128.5h0M477 137h0M477 143h0M481 143h0M485.4 121h0M485.4 126h0M485.4 131h0M485.4 136h0M440 128h0" stroke="#ff2a0a" stroke-width="2.3" stroke-linecap="round" fill="none"/>
<path d="M260.47 148.61h0M384.24 149.81h0M282.71 149.07h0M307.3 149.86h0M332.21 152.08h0M183.09 149.4h0M241.42 148.36h0M466.74 152.21h0M479.84 153.7h0M438.43 148.53h0M465.36 151.87h0M343.88 150.06h0M377.42 147.92h0M464.75 148.19h0M165.98 145.28h0M146.74 149.25h0M174.92 152.87h0M143.99 146.49h0M146.78 151.12h0M318.87 147.39h0M340.15 149.95h0M135.74 146.53h0M159.46 151.14h0M429.52 145.09h0M279.31 148.95h0M140.77 151.23h0M407.23 149.62h0M321.11 152.18h0M253.82 148.9h0M218.19 148.03h0M446.62 150.26h0M224.91 150.72h0M304.49 150.14h0M219.55 148.22h0M366.36 149.66h0M225.44 151.98h0M444.91 150.32h0M241.87 151h0M251.78 149.4h0M414.32 147.13h0M326.04 152.49h0M221.74 151.25h0M212.35 145.12h0M266.3 152.59h0M261.26 154.45h0M272.09 146.89h0M183.32 150.57h0M254.8 146.75h0M414.36 148.72h0M344.82 150.82h0M397.1 146.51h0M140.38 150.3h0M311.54 149.32h0M458.15 150.25h0M186.12 150.82h0M474.36 153.35h0M464.13 147.53h0M185.51 153.28h0M387.58 150.91h0M183.37 149.41h0M374.77 151.94h0M470.4 147.85h0M295.58 149.17h0M231.82 150.45h0M466.74 150.84h0M258.11 150.3h0M152.88 149.4h0M178.82 150.87h0M321.39 147.54h0M404.43 149.22h0M321.33 150.5h0M214.15 149.56h0M162.56 148.69h0M461.55 152.63h0M313.24 150.66h0M336.04 151.16h0M239.37 151.08h0M297.7 145.15h0M348.27 150.94h0M202.81 148.14h0M468.57 150.2h0M404.58 149.74h0M276.81 150.82h0M196.55 150.14h0M395.3 149.89h0M213.02 150.15h0M417.44 147.18h0M299.58 149.81h0M199.91 151.33h0M150.16 149.95h0M227.43 148.53h0M302.35 148.63h0M355.62 149.11h0M447.34 151.34h0M340.47 147.85h0M297.91 150.92h0M252.78 150.92h0M465.67 149.12h0M436.43 150.59h0M315.02 149.08h0M482.85 149.53h0M390.71 150.87h0M218.45 148.89h0M469.77 149.27h0M235.71 152.05h0M257.96 151.37h0M332.83 145.73h0M316.91 149.87h0M269.19 151.91h0M230.43 149.82h0M338.08 148.44h0M167.23 148.32h0M311.02 147.24h0M477.76 150.09h0M234.33 149.09h0M417.72 150.07h0M218.22 151.33h0M225.34 146.97h0M454.02 147.9h0M331.37 149.75h0M469.21 147.74h0M238.03 149.93h0M432.26 148.15h0M204.82 149.77h0M211.42 151.44h0M480.78 147h0M459.06 148.52h0M386.57 146.85h0M421.13 150.15h0M422.94 148.74h0M242.5 149.95h0M143.57 153.84h0M316.07 148.04h0M350.89 152.46h0M456.92 152.16h0M158.26 148.74h0M370.89 153.75h0M442.91 153.04h0M245.09 150.89h0M402.96 152.35h0M483.02 149.13h0M391.88 149.15h0M156.16 151.88h0M412.57 147.53h0M443.7 145.89h0M360.98 147.98h0M309.05 148.54h0M143.58 150.92h0M192.31 150.17h0M366.1 148.56h0M409.02 149.06h0M246.97 147.76h0M231.77 150.8h0M377.62 152.2h0M467.91 147.8h0M457.08 153.4h0M238 152.19h0M475.09 149.06h0M408.62 149.07h0M319.86 151.06h0M307.61 153.3h0M324.41 150.59h0M302.38 149.75h0M205.79 148.44h0M340.4 149.89h0M160.18 151.4h0M153.91 148.45h0M470.28 151.54h0M361.15 148.22h0M218.54 150.74h0M302.69 150.69h0M288.26 149.57h0M377.39 149.98h0M361.7 147.52h0M466.55 150.92h0M326.43 149.01h0M487.36 148.65h0M405.77 149.6h0M155.6 151.14h0M231.66 151.65h0M389.39 149.57h0M406.08 148.24h0M364.02 149.26h0M288.07 147.89h0M173.1 145.38h0M448.94 150.5h0M155.29 151.09h0M380.51 150.42h0M289.89 151.12h0M337.72 151.16h0M398.07 147.66h0M375.87 151.29h0M352.71 152.51h0M180.86 150.61h0M154.81 149.47h0M161.21 149.85h0M273.44 148.97h0M471.97 149.97h0M436.12 147.41h0M246.84 150h0M482.54 150.92h0M213.45 150.85h0M440.91 147.95h0M276.2 149.7h0M448.45 149.65h0M385.31 152.98h0M293.69 148.52h0M295.33 151.24h0M246.82 148.48h0M242.65 148.5h0M408.13 147.84h0M445.81 150.37h0M295.91 147.06h0M479.97 152.5h0M412.7 147.61h0M396.9 151.36h0M240.02 149.08h0M366.86 145.46h0M371.45 147.39h0M215.23 150.84h0M407.29 144.92h0M256.05 148.57h0M386.58 151.66h0M405.88 150h0M227.04 148.84h0M276.04 148.97h0M486.07 151.11h0M156.59 153.55h0M341.18 151.29h0M273.53 146.71h0M343.78 165.34h0M404.23 165.39h0M339.74 164.6h0M384.3 165.1h0M327.53 165.78h0M183.65 165.45h0M250.08 165.36h0M470.78 164.64h0M335.59 165.05h0M310.21 164.47h0M356.16 165.63h0M369.5 164.66h0M419.87 164.87h0M186.73 165.17h0M297.92 165.05h0M485.18 165.11h0M471.89 164.76h0M403.25 164.32h0M241.48 165.31h0M379.01 165.53h0M269.63 164.64h0M261.95 165.06h0M144.02 164.8h0M367.38 164.44h0M245.26 165.6h0M464.86 164.6h0M198.27 164.39h0M165.74 165.47h0M396.22 164.62h0M308.06 165.31h0M145.41 165.51h0M438.74 164.54h0M383.68 165.32h0M254.41 165.61h0M212.55 164.96h0M246.18 164.91h0M422.08 165.11h0M350.46 165.78h0M214.32 164.56h0M354.13 164.44h0M483 155.75h0M405.26 156.74h0M462.74 162.07h0M440.4 153.89h0M392.67 159.77h0M372.04 161.71h0M469.36 154.49h0M394.02 154.52h0M446.56 152.52h0M443.17 152.69h0M464.74 157.98h0M426.48 153.05h0M346.56 155.88h0M486.03 158.6h0M467.88 152.69h0M355.1 152.23h0M443.36 153.94h0M380.44 159.34h0M443.14 155.55h0M409.32 155.18h0M423.25 155.91h0M393.39 154.74h0M383.33 154.87h0M342.41 155.41h0M427.8 154.96h0M356.75 161.31h0M409.56 157.63h0M386.25 161.76h0M451.82 158.85h0M437.79 159.62h0M414.22 156.54h0M397.84 157.55h0M409.49 157.82h0M419.05 160.67h0M472.37 154.46h0M343.29 155.31h0M344.72 160.76h0M432 155.14h0M368.36 161.55h0M464 159.52h0M276.95 160.19h0M228.47 156.37h0M248.56 161.68h0M338.23 162.09h0M306.35 152.82h0M186 162.68h0M246.65 157.66h0M198.86 161.48h0M241.19 162.89h0M150.95 162.93h0M138.24 153.63h0M215.16 159.03h0M158.12 158.19h0M327.6 156.79h0M291.4 158.51h0M402.6 65.7h0M389.88 125.42h0M389.76 135.6h0M389.97 126.04h0M389.75 130.61h0M389.64 131.09h0M389.93 123.25h0M389.52 132.19h0M389.51 124.02h0M390.06 127.67h0M390.26 130.82h0M389.4 131.92h0M389.56 134.4h0M390.02 133.62h0M389.36 123.48h0M419.6 136.06h0M419.6 139.59h0M419.6 135.02h0M419.6 138.72h0M419.6 134.48h0M419.6 136.96h0M485.4 144.24h0M485.4 126.76h0M485.4 127.69h0M485.4 143.02h0M485.4 137.19h0M485.4 122.58h0M422.4 117.4h0M286.5 130h0" stroke="#000000" stroke-width="1.8" stroke-linecap="round" fill="none"/>
<path d="M390.16 136.25h0M389.44 134.48h0M389.4 141.58h0M390.35 139.14h0M389.51 147.25h0M389.42 144.16h0M389.94 148.97h0M389.25 143.01h0" stroke="#ff2a0a" stroke-width="2.2" stroke-linecap="round" fill="none"/>
<path d="M165.1 139.57h0M165.54 132.12h0M164.7 132.08h0M162.59 121.62h0M162.56 126.32h0M165.55 144.06h0M164.3 133.26h0M166.03 132.7h0M164.21 122.64h0M163.01 144.97h0M165.68 143.78h0M163.9 137.43h0M164.84 130.29h0M162.57 123.06h0M162.52 140.11h0M165.21 135.44h0M165.11 139.07h0M165.33 139.5h0M163.01 135.97h0M163.04 142.84h0M164.11 137.67h0M162.88 136.1h0M163.92 124.41h0M164.37 135.61h0M165.24 139.01h0M163.65 128.89h0M163.63 101.5h0M163.59 133.29h0M163.31 133.86h0M164.8 105h0M166.05 138.7h0M165.13 116.22h0M167.38 144.09h0M166.47 135.75h0M166.99 107.18h0M168 115.49h0M165.94 130.24h0M164.21 121.5h0M164.41 122.59h0M163.43 120.64h0M165.14 135.3h0M166.23 137.3h0M165.12 125.59h0M164.18 123.15h0M162.41 144.53h0M163.28 144.25h0M164.69 117.97h0M163.94 143.53h0M166.61 138.59h0M163.67 108.1h0M164.59 132.99h0M164.9 116.14h0M162.92 132.48h0M163.72 142.35h0M164.56 132.47h0M165.74 116.89h0M165.04 140.82h0M164.15 142.03h0M164.45 133.66h0M163.13 130.6h0M164.1 133.92h0M164.33 142.9h0M164.55 137.15h0M165.23 129.4h0M167.23 121.34h0M166.29 136.63h0M162.43 140.9h0M163.24 118.42h0M162.59 126.78h0M164.34 131.5h0M163.33 120.98h0M164.02 92.2h0M166.76 138.67h0M163.94 127.05h0M163.68 97.82h0M164.57 92h0M164.33 138.69h0M163.82 136.24h0M166.11 139.91h0M165.23 127.53h0M165.25 134.94h0M162.61 143.92h0M164.34 139.02h0M165.39 133.25h0M162.75 139.6h0M164.49 135.89h0M163.06 104.89h0M164.33 137.37h0M166.1 129.19h0M162.64 142.03h0M163.43 103.92h0M165.29 123.6h0M162.85 143.47h0M165.44 139.74h0M163.42 135.5h0M163.01 132.44h0M165.13 112.5h0M163.91 130.13h0M165.02 118.71h0M162.83 100.69h0M163.01 136.49h0M164.19 127.58h0M163.71 114.08h0M163.03 143.76h0M164.58 102.3h0M164.93 125.3h0M164.61 133.73h0M164.59 138.95h0M165.89 115.93h0M164.73 114.34h0M163.88 113.94h0M164.73 113.27h0M163.67 137.49h0M165.28 129.14h0M165.44 114.92h0M164.71 108.31h0M163.54 100.93h0M165.27 141.14h0M163.49 114.54h0M162.82 102.97h0M164.7 139.71h0M162.7 108.48h0M165.13 107.07h0M165.56 113.29h0M164.1 105.88h0M163.45 116.8h0M163.4 131.73h0M162.51 127.3h0M165.29 111.98h0M163.09 101.88h0M162.68 134.82h0M164.57 96.74h0M164.03 125.34h0M163.55 97.71h0M163.92 113.33h0M165.9 113.63h0M165.72 138.53h0M164.47 102.17h0M165.31 100.42h0M164.41 100.77h0M162.73 116.12h0M162.96 144.61h0M164.48 139.96h0M165.84 133.14h0M164.72 119.18h0M165.2 128.8h0M162.97 121.97h0M163.89 121.26h0M164.97 129.76h0M164.45 134.65h0M165.37 100.53h0M162.92 98.31h0M162.98 142.99h0M163.51 117.51h0M164.08 123.66h0M163.41 134.16h0M163.59 137.43h0M165.29 96.06h0M164.37 100.56h0M165.58 99.4h0M163.36 133.67h0M164.53 128.68h0M163.89 121.51h0M163.13 118.66h0M163.33 129.1h0M155.3 106.6h0M172.3 139.5h0M163.8 90.5h0M164.5 94h0M463.5 88.3h0M459.3 92.5h0M462 95h0M456.3 98h0M457.2 60.8h0M455.3 113.69h0M459.61 148.37h0M455.37 141.34h0M457.52 140.99h0M455.23 112.24h0M463.42 123.22h0M455.67 133.53h0M461.44 122.39h0M456.44 135.15h0M456.84 111.38h0M456.09 106.43h0M458.19 97.85h0M455.92 111.03h0M461.2 108.64h0M457.56 115.16h0M459.95 109.26h0M462.69 114.84h0M456.5 139.92h0M463.46 129.45h0M460.32 148.58h0M460.11 114.83h0M462.46 109.99h0M461.74 102.48h0M456.31 146.47h0M459.9 112.03h0M455.62 107.77h0M456.77 122.6h0M454.86 134.67h0M456.16 116.88h0M455.87 99.33h0M457.96 120.85h0M459.7 104.97h0M461.67 116.84h0M462.93 140.95h0M462.43 122.62h0M461.81 140.14h0M457.51 132.11h0M459.81 123.28h0M460.29 127.59h0M461.65 136.03h0M459.63 111.01h0M462.86 113.48h0M462.67 102.97h0M459.74 123.5h0M457.99 146.12h0M455.78 134.58h0M456.28 125.8h0M463.55 145.64h0M460.56 111.98h0M462.15 117.13h0M454.87 108.99h0M463.13 102.05h0M457.63 144.5h0M458.28 147.74h0M457.49 138.76h0M456.69 134.14h0M460.22 147.57h0M458.26 146.8h0M463.16 140.24h0M457.43 141.77h0M455.02 137.15h0M463.76 121.9h0M462.51 118.01h0M458.04 136.84h0M455.54 124.85h0M460.06 100.18h0M455.62 114.75h0M463.43 102.81h0M462.67 130.07h0M455.06 134.22h0M463.43 132.73h0M463.63 139.82h0M454.85 132.03h0M462.17 102.48h0M463.74 129.08h0M463.76 122.65h0M454.84 119.34h0M461.26 113.46h0M455.9 122.38h0M461.38 139.3h0M460.42 126.01h0M455.89 144.4h0M456.69 116.71h0M456.06 117.52h0M462.54 129.15h0M459.83 106.39h0M463.76 137.99h0M462.22 129.63h0M461.74 113.17h0M455.05 134.44h0M455.89 131.71h0M463.4 148.55h0M460.66 140.38h0M459.92 104.86h0M457.38 102.14h0M457.99 141.02h0M454.9 99.73h0M462.45 105.71h0M460.98 137.81h0M456.69 117.13h0M461.07 137.79h0M454.81 147.39h0M462.07 103.06h0M457 132.37h0M455.64 114.73h0M456.58 123.48h0M460.92 140.53h0M454.91 131.81h0M457.33 115.23h0M462.65 111.98h0M463.45 145.25h0M456.13 145.04h0M454.95 143.74h0M456.08 113.96h0M462.36 104.73h0M456.39 140.55h0M460.63 119.27h0M456.79 128.61h0M462.52 110.95h0M455.81 129.34h0M461.35 102.45h0M463.17 143.18h0M460.31 135.58h0M454.82 110.56h0M462.15 123.34h0M460.17 106.55h0M462.96 140.51h0M455.32 102.81h0M463 123.93h0M463.08 139.49h0M455 138.63h0M460.82 121.13h0M462.78 143.24h0M457.02 107.8h0M461.72 107.14h0M456.46 108.53h0M462.71 141.82h0M455 139.72h0M455.32 125.18h0M455.09 123.7h0M462.16 142.48h0M455.79 141.94h0M462.26 102.35h0M457.84 146.51h0M454.97 129.59h0M460.47 95.26h0M463.26 100.19h0M457.01 145.12h0M456.98 117.74h0M457.93 134.85h0M458.23 130.62h0M460.9 100.49h0M455.16 139.17h0M460.75 117.81h0M463.11 148.04h0M462.21 128.53h0M456.85 115.87h0M462.63 98.3h0M457.85 129.07h0M461.92 133.23h0M460.59 106.05h0M463.58 114.37h0M461.51 108.73h0M455.62 117.26h0M455.09 128.04h0M462.12 130.61h0M460.84 122.73h0M457.44 130.76h0M461.91 137.64h0M456.36 137.32h0" stroke="#000000" stroke-width="1.7" stroke-linecap="round" fill="none"/>
<rect x="135.3" y="169.2" width="1.9" height="4.6" fill="#16167a"/>
<rect x="146.3" y="169.2" width="39.1" height="4.6" fill="#16167a"/>
<rect x="193.9" y="169.2" width="10.6" height="4.6" fill="#16167a"/>
<rect x="213" y="169.2" width="4.2" height="4.6" fill="#16167a"/>
<rect x="224.6" y="169.2" width="3.2" height="4.6" fill="#16167a"/>
<rect x="243.2" y="169.2" width="1.4" height="4.6" fill="#16167a"/>
<rect x="247" y="169.2" width="1.5" height="4.6" fill="#16167a"/>
<rect x="268.6" y="169.2" width="2.1" height="4.6" fill="#16167a"/>
<rect x="277.7" y="169.2" width="4.6" height="4.6" fill="#16167a"/>
<rect x="294.6" y="169.2" width="1.4" height="4.6" fill="#16167a"/>
<rect x="299.3" y="169.2" width="16.9" height="4.6" fill="#16167a"/>
<rect x="318.7" y="169.2" width="16.5" height="4.6" fill="#16167a"/>
<rect x="341.2" y="169.2" width="1.4" height="4.6" fill="#16167a"/>
<rect x="347.5" y="169.2" width="1.5" height="4.6" fill="#16167a"/>
<rect x="354.3" y="169.2" width="2.1" height="4.6" fill="#16167a"/>
<rect x="358.7" y="169.2" width="4.2" height="4.6" fill="#16167a"/>
<rect x="368.6" y="169.2" width="7.4" height="4.6" fill="#16167a"/>
<rect x="385.1" y="169.2" width="5.2" height="4.6" fill="#16167a"/>
<rect x="395" y="169.2" width="7.4" height="4.6" fill="#16167a"/>
<rect x="412.3" y="169.2" width="3.2" height="4.6" fill="#16167a"/>
<rect x="422.9" y="169.2" width="17.3" height="4.6" fill="#16167a"/>
<rect x="447.6" y="169.2" width="2" height="4.6" fill="#16167a"/>
<rect x="138.9" y="169.2" width="7" height="4.6" fill="#4a84c0"/>
<rect x="185.9" y="169.2" width="5.5" height="4.6" fill="#4a84c0"/>
<rect x="205.1" y="169.2" width="6.4" height="4.6" fill="#4a84c0"/>
<rect x="221" y="169.2" width="1.5" height="4.6" fill="#4a84c0"/>
<rect x="228.8" y="169.2" width="13.4" height="4.6" fill="#4a84c0"/>
<rect x="245.3" y="169.2" width="1" height="4.6" fill="#4a84c0"/>
<rect x="249.5" y="169.2" width="2.1" height="4.6" fill="#4a84c0"/>
<rect x="254.4" y="169.2" width="13.1" height="4.6" fill="#4a84c0"/>
<rect x="271.7" y="169.2" width="5.3" height="4.6" fill="#4a84c0"/>
<rect x="282.3" y="169.2" width="5.3" height="4.6" fill="#4a84c0"/>
<rect x="292.5" y="169.2" width="1.5" height="4.6" fill="#4a84c0"/>
<rect x="337.4" y="169.2" width="2.1" height="4.6" fill="#4a84c0"/>
<rect x="344.1" y="169.2" width="1.7" height="4.6" fill="#4a84c0"/>
<rect x="350" y="169.2" width="3.2" height="4.6" fill="#4a84c0"/>
<rect x="357.5" y="169.2" width="1" height="4.6" fill="#4a84c0"/>
<rect x="377.7" y="169.2" width="5.7" height="4.6" fill="#4a84c0"/>
<rect x="390.8" y="169.2" width="3.7" height="4.6" fill="#4a84c0"/>
<rect x="403.9" y="169.2" width="6.7" height="4.6" fill="#4a84c0"/>
<rect x="418" y="169.2" width="4.2" height="4.6" fill="#4a84c0"/>
<rect x="440.2" y="169.2" width="6.7" height="4.6" fill="#4a84c0"/>
<rect x="451.3" y="169.2" width="35.7" height="4.6" fill="#4a84c0"/>
<text x="114" y="169.9" font-size="4.9" font-weight="normal" font-style="normal" fill="#333" textLength="17" lengthAdjust="spacingAndGlyphs">PHASE</text>
<text x="112.19" y="176.9" font-size="4.9" font-weight="normal" font-style="normal" fill="#333" textLength="20.65" lengthAdjust="spacingAndGlyphs">BLOCKS</text>
<rect x="49.4" y="36.5" width="57.9" height="141" fill="none" stroke="#cfcfcf" stroke-width="0.9" />
<rect x="110.4" y="36.5" width="382.6" height="141" fill="none" stroke="#cfcfcf" stroke-width="0.9" />
<rect x="496.4" y="36.5" width="56.2" height="141" fill="none" stroke="#cfcfcf" stroke-width="0.9" />
<line x1="47.2" y1="165.8" x2="49.4" y2="165.8" stroke="#444" stroke-width="0.8" />
<text x="40.88" y="168.8" font-size="8.3" font-weight="normal" fill="#1e1e1e">0</text>
<line x1="47.2" y1="144.3" x2="49.4" y2="144.3" stroke="#444" stroke-width="0.8" />
<text x="36.28" y="147.3" font-size="8.3" font-weight="normal" fill="#1e1e1e">20</text>
<line x1="47.2" y1="122.8" x2="49.4" y2="122.8" stroke="#444" stroke-width="0.8" />
<text x="36.28" y="125.8" font-size="8.3" font-weight="normal" fill="#1e1e1e">40</text>
<line x1="47.2" y1="101.3" x2="49.4" y2="101.3" stroke="#444" stroke-width="0.8" />
<text x="36.28" y="104.3" font-size="8.3" font-weight="normal" fill="#1e1e1e">60</text>
<line x1="47.2" y1="79.8" x2="49.4" y2="79.8" stroke="#444" stroke-width="0.8" />
<text x="36.28" y="82.8" font-size="8.3" font-weight="normal" fill="#1e1e1e">80</text>
<line x1="47.2" y1="58.3" x2="49.4" y2="58.3" stroke="#444" stroke-width="0.8" />
<text x="31.67" y="61.3" font-size="8.3" font-weight="normal" fill="#1e1e1e">100</text>
<line x1="52.2" y1="177.5" x2="52.2" y2="179.7" stroke="#444" stroke-width="0.8" />
<text x="46.21" y="188" font-size="8.3" font-weight="normal" fill="#1e1e1e">0.0</text>
<line x1="102.7" y1="177.5" x2="102.7" y2="179.7" stroke="#444" stroke-width="0.8" />
<text x="96.75" y="188" font-size="8.3" font-weight="normal" fill="#1e1e1e">0.1</text>
<line x1="499.2" y1="177.5" x2="499.2" y2="179.7" stroke="#444" stroke-width="0.8" />
<text x="493.21" y="188" font-size="8.3" font-weight="normal" fill="#1e1e1e">0.0</text>
<line x1="534.8" y1="177.5" x2="534.8" y2="179.7" stroke="#444" stroke-width="0.8" />
<text x="528.85" y="188" font-size="8.3" font-weight="normal" fill="#1e1e1e">0.1</text>
<line x1="135.25" y1="177.5" x2="135.25" y2="179.7" stroke="#444" stroke-width="0.8" />
<text x="130.6" y="188" font-size="8.3" font-weight="normal" fill="#1e1e1e">90</text>
<line x1="184.45" y1="177.5" x2="184.45" y2="179.7" stroke="#444" stroke-width="0.8" />
<text x="179.82" y="188" font-size="8.3" font-weight="normal" fill="#1e1e1e">95</text>
<line x1="233.65" y1="177.5" x2="233.65" y2="179.7" stroke="#444" stroke-width="0.8" />
<text x="226.57" y="188" font-size="8.3" font-weight="normal" fill="#1e1e1e">100</text>
<line x1="282.85" y1="177.5" x2="282.85" y2="179.7" stroke="#444" stroke-width="0.8" />
<text x="275.8" y="188" font-size="8.3" font-weight="normal" fill="#1e1e1e">105</text>
<line x1="332.05" y1="177.5" x2="332.05" y2="179.7" stroke="#444" stroke-width="0.8" />
<text x="325.26" y="188" font-size="8.3" font-weight="normal" fill="#1e1e1e">110</text>
<line x1="381.25" y1="177.5" x2="381.25" y2="179.7" stroke="#444" stroke-width="0.8" />
<text x="374.49" y="188" font-size="8.3" font-weight="normal" fill="#1e1e1e">115</text>
<line x1="430.45" y1="177.5" x2="430.45" y2="179.7" stroke="#444" stroke-width="0.8" />
<text x="423.37" y="188" font-size="8.3" font-weight="normal" fill="#1e1e1e">120</text>
<line x1="479.65" y1="177.5" x2="479.65" y2="179.7" stroke="#444" stroke-width="0.8" />
<text x="472.59" y="188" font-size="8.3" font-weight="normal" fill="#1e1e1e">125</text>
<text x="54.28" y="201.4" font-size="14" font-weight="normal" font-style="normal" fill="#000" textLength="46.82" lengthAdjust="spacingAndGlyphs">Density</text>
<text x="500.98" y="200.8" font-size="14" font-weight="normal" font-style="normal" fill="#000" textLength="46.61" lengthAdjust="spacingAndGlyphs">Density</text>
<text x="267.23" y="200.6" font-size="14" font-weight="normal" font-style="normal" fill="#000" textLength="68.89" lengthAdjust="spacingAndGlyphs">chr10 (Mb)</text>
<text transform="translate(29 151.9) rotate(-90)" x="-1.13" y="0" font-size="14" font-weight="normal" font-style="normal" fill="#000" textLength="91.46" lengthAdjust="spacingAndGlyphs">Barcode count</text>
<text x="18.36" y="50.8" font-size="19.5" font-weight="bold" font-style="normal" fill="#000" textLength="10.08" lengthAdjust="spacingAndGlyphs">a</text>
<rect x="67" y="219.1" width="398" height="142.1" fill="#fff" stroke="none" stroke-width="1" />
<rect x="472.7" y="219.1" width="78.9" height="142.1" fill="#fff" stroke="none" stroke-width="1" />
<line x1="67" y1="329.6" x2="465" y2="329.6" stroke="#f3f3f3" stroke-width="0.7" stroke-dasharray="1,1"/>
<line x1="67" y1="293.8" x2="465" y2="293.8" stroke="#f3f3f3" stroke-width="0.7" stroke-dasharray="1,1"/>
<line x1="67" y1="258" x2="465" y2="258" stroke="#f3f3f3" stroke-width="0.7" stroke-dasharray="1,1"/>
<line x1="67" y1="222.2" x2="465" y2="222.2" stroke="#f3f3f3" stroke-width="0.7" stroke-dasharray="1,1"/>
<line x1="67" y1="347.5" x2="465" y2="347.5" stroke="#ececec" stroke-width="0.7" />
<line x1="67" y1="311.7" x2="465" y2="311.7" stroke="#ececec" stroke-width="0.7" />
<line x1="67" y1="275.9" x2="465" y2="275.9" stroke="#ececec" stroke-width="0.7" />
<line x1="67" y1="240.1" x2="465" y2="240.1" stroke="#ececec" stroke-width="0.7" />
<line x1="472.7" y1="329.6" x2="551.6" y2="329.6" stroke="#f3f3f3" stroke-width="0.7" stroke-dasharray="1,1"/>
<line x1="472.7" y1="293.8" x2="551.6" y2="293.8" stroke="#f3f3f3" stroke-width="0.7" stroke-dasharray="1,1"/>
<line x1="472.7" y1="258" x2="551.6" y2="258" stroke="#f3f3f3" stroke-width="0.7" stroke-dasharray="1,1"/>
<line x1="472.7" y1="222.2" x2="551.6" y2="222.2" stroke="#f3f3f3" stroke-width="0.7" stroke-dasharray="1,1"/>
<line x1="472.7" y1="347.5" x2="551.6" y2="347.5" stroke="#ececec" stroke-width="0.7" />
<line x1="472.7" y1="311.7" x2="551.6" y2="311.7" stroke="#ececec" stroke-width="0.7" />
<line x1="472.7" y1="275.9" x2="551.6" y2="275.9" stroke="#ececec" stroke-width="0.7" />
<line x1="472.7" y1="240.1" x2="551.6" y2="240.1" stroke="#ececec" stroke-width="0.7" />
<line x1="132.17" y1="219.1" x2="132.17" y2="361.2" stroke="#f3f3f3" stroke-width="0.7" stroke-dasharray="1,1"/>
<line x1="197.51" y1="219.1" x2="197.51" y2="361.2" stroke="#f3f3f3" stroke-width="0.7" stroke-dasharray="1,1"/>
<line x1="262.85" y1="219.1" x2="262.85" y2="361.2" stroke="#f3f3f3" stroke-width="0.7" stroke-dasharray="1,1"/>
<line x1="328.19" y1="219.1" x2="328.19" y2="361.2" stroke="#f3f3f3" stroke-width="0.7" stroke-dasharray="1,1"/>
<line x1="393.53" y1="219.1" x2="393.53" y2="361.2" stroke="#f3f3f3" stroke-width="0.7" stroke-dasharray="1,1"/>
<line x1="458.87" y1="219.1" x2="458.87" y2="361.2" stroke="#f3f3f3" stroke-width="0.7" stroke-dasharray="1,1"/>
<line x1="99.5" y1="219.1" x2="99.5" y2="361.2" stroke="#ececec" stroke-width="0.7" />
<line x1="164.84" y1="219.1" x2="164.84" y2="361.2" stroke="#ececec" stroke-width="0.7" />
<line x1="230.18" y1="219.1" x2="230.18" y2="361.2" stroke="#ececec" stroke-width="0.7" />
<line x1="295.52" y1="219.1" x2="295.52" y2="361.2" stroke="#ececec" stroke-width="0.7" />
<line x1="360.86" y1="219.1" x2="360.86" y2="361.2" stroke="#ececec" stroke-width="0.7" />
<line x1="426.2" y1="219.1" x2="426.2" y2="361.2" stroke="#ececec" stroke-width="0.7" />
<line x1="500.1" y1="219.1" x2="500.1" y2="361.2" stroke="#f3f3f3" stroke-width="0.7" stroke-dasharray="1,1"/>
<line x1="548.3" y1="219.1" x2="548.3" y2="361.2" stroke="#f3f3f3" stroke-width="0.7" stroke-dasharray="1,1"/>
<line x1="476" y1="219.1" x2="476" y2="361.2" stroke="#ececec" stroke-width="0.7" />
<line x1="524.2" y1="219.1" x2="524.2" y2="361.2" stroke="#ececec" stroke-width="0.7" />
<rect x="67" y="369.1" width="398" height="149.9" fill="#fff" stroke="none" stroke-width="1" />
<rect x="472.7" y="369.1" width="78.9" height="149.9" fill="#fff" stroke="none" stroke-width="1" />
<line x1="67" y1="486" x2="465" y2="486" stroke="#f3f3f3" stroke-width="0.7" stroke-dasharray="1,1"/>
<line x1="67" y1="447.8" x2="465" y2="447.8" stroke="#f3f3f3" stroke-width="0.7" stroke-dasharray="1,1"/>
<line x1="67" y1="409.6" x2="465" y2="409.6" stroke="#f3f3f3" stroke-width="0.7" stroke-dasharray="1,1"/>
<line x1="67" y1="371.4" x2="465" y2="371.4" stroke="#f3f3f3" stroke-width="0.7" stroke-dasharray="1,1"/>
<line x1="67" y1="505.1" x2="465" y2="505.1" stroke="#ececec" stroke-width="0.7" />
<line x1="67" y1="466.9" x2="465" y2="466.9" stroke="#ececec" stroke-width="0.7" />
<line x1="67" y1="428.7" x2="465" y2="428.7" stroke="#ececec" stroke-width="0.7" />
<line x1="67" y1="390.5" x2="465" y2="390.5" stroke="#ececec" stroke-width="0.7" />
<line x1="472.7" y1="486" x2="551.6" y2="486" stroke="#f3f3f3" stroke-width="0.7" stroke-dasharray="1,1"/>
<line x1="472.7" y1="447.8" x2="551.6" y2="447.8" stroke="#f3f3f3" stroke-width="0.7" stroke-dasharray="1,1"/>
<line x1="472.7" y1="409.6" x2="551.6" y2="409.6" stroke="#f3f3f3" stroke-width="0.7" stroke-dasharray="1,1"/>
<line x1="472.7" y1="371.4" x2="551.6" y2="371.4" stroke="#f3f3f3" stroke-width="0.7" stroke-dasharray="1,1"/>
<line x1="472.7" y1="505.1" x2="551.6" y2="505.1" stroke="#ececec" stroke-width="0.7" />
<line x1="472.7" y1="466.9" x2="551.6" y2="466.9" stroke="#ececec" stroke-width="0.7" />
<line x1="472.7" y1="428.7" x2="551.6" y2="428.7" stroke="#ececec" stroke-width="0.7" />
<line x1="472.7" y1="390.5" x2="551.6" y2="390.5" stroke="#ececec" stroke-width="0.7" />
<line x1="132.17" y1="369.1" x2="132.17" y2="519" stroke="#f3f3f3" stroke-width="0.7" stroke-dasharray="1,1"/>
<line x1="197.51" y1="369.1" x2="197.51" y2="519" stroke="#f3f3f3" stroke-width="0.7" stroke-dasharray="1,1"/>
<line x1="262.85" y1="369.1" x2="262.85" y2="519" stroke="#f3f3f3" stroke-width="0.7" stroke-dasharray="1,1"/>
<line x1="328.19" y1="369.1" x2="328.19" y2="519" stroke="#f3f3f3" stroke-width="0.7" stroke-dasharray="1,1"/>
<line x1="393.53" y1="369.1" x2="393.53" y2="519" stroke="#f3f3f3" stroke-width="0.7" stroke-dasharray="1,1"/>
<line x1="458.87" y1="369.1" x2="458.87" y2="519" stroke="#f3f3f3" stroke-width="0.7" stroke-dasharray="1,1"/>
<line x1="99.5" y1="369.1" x2="99.5" y2="519" stroke="#ececec" stroke-width="0.7" />
<line x1="164.84" y1="369.1" x2="164.84" y2="519" stroke="#ececec" stroke-width="0.7" />
<line x1="230.18" y1="369.1" x2="230.18" y2="519" stroke="#ececec" stroke-width="0.7" />
<line x1="295.52" y1="369.1" x2="295.52" y2="519" stroke="#ececec" stroke-width="0.7" />
<line x1="360.86" y1="369.1" x2="360.86" y2="519" stroke="#ececec" stroke-width="0.7" />
<line x1="426.2" y1="369.1" x2="426.2" y2="519" stroke="#ececec" stroke-width="0.7" />
<line x1="500.1" y1="369.1" x2="500.1" y2="519" stroke="#f3f3f3" stroke-width="0.7" stroke-dasharray="1,1"/>
<line x1="548.3" y1="369.1" x2="548.3" y2="519" stroke="#f3f3f3" stroke-width="0.7" stroke-dasharray="1,1"/>
<line x1="476" y1="369.1" x2="476" y2="519" stroke="#ececec" stroke-width="0.7" />
<line x1="524.2" y1="369.1" x2="524.2" y2="519" stroke="#ececec" stroke-width="0.7" />
<rect x="67" y="527.1" width="398" height="146.2" fill="#fff" stroke="none" stroke-width="1" />
<rect x="472.7" y="527.1" width="78.9" height="146.2" fill="#fff" stroke="none" stroke-width="1" />
<line x1="67" y1="641.04" x2="465" y2="641.04" stroke="#f3f3f3" stroke-width="0.7" stroke-dasharray="1,1"/>
<line x1="67" y1="603.91" x2="465" y2="603.91" stroke="#f3f3f3" stroke-width="0.7" stroke-dasharray="1,1"/>
<line x1="67" y1="566.79" x2="465" y2="566.79" stroke="#f3f3f3" stroke-width="0.7" stroke-dasharray="1,1"/>
<line x1="67" y1="529.66" x2="465" y2="529.66" stroke="#f3f3f3" stroke-width="0.7" stroke-dasharray="1,1"/>
<line x1="67" y1="659.6" x2="465" y2="659.6" stroke="#ececec" stroke-width="0.7" />
<line x1="67" y1="622.48" x2="465" y2="622.48" stroke="#ececec" stroke-width="0.7" />
<line x1="67" y1="585.35" x2="465" y2="585.35" stroke="#ececec" stroke-width="0.7" />
<line x1="67" y1="548.23" x2="465" y2="548.23" stroke="#ececec" stroke-width="0.7" />
<line x1="472.7" y1="641.04" x2="551.6" y2="641.04" stroke="#f3f3f3" stroke-width="0.7" stroke-dasharray="1,1"/>
<line x1="472.7" y1="603.91" x2="551.6" y2="603.91" stroke="#f3f3f3" stroke-width="0.7" stroke-dasharray="1,1"/>
<line x1="472.7" y1="566.79" x2="551.6" y2="566.79" stroke="#f3f3f3" stroke-width="0.7" stroke-dasharray="1,1"/>
<line x1="472.7" y1="529.66" x2="551.6" y2="529.66" stroke="#f3f3f3" stroke-width="0.7" stroke-dasharray="1,1"/>
<line x1="472.7" y1="659.6" x2="551.6" y2="659.6" stroke="#ececec" stroke-width="0.7" />
<line x1="472.7" y1="622.48" x2="551.6" y2="622.48" stroke="#ececec" stroke-width="0.7" />
<line x1="472.7" y1="585.35" x2="551.6" y2="585.35" stroke="#ececec" stroke-width="0.7" />
<line x1="472.7" y1="548.23" x2="551.6" y2="548.23" stroke="#ececec" stroke-width="0.7" />
<line x1="132.17" y1="527.1" x2="132.17" y2="673.3" stroke="#f3f3f3" stroke-width="0.7" stroke-dasharray="1,1"/>
<line x1="197.51" y1="527.1" x2="197.51" y2="673.3" stroke="#f3f3f3" stroke-width="0.7" stroke-dasharray="1,1"/>
<line x1="262.85" y1="527.1" x2="262.85" y2="673.3" stroke="#f3f3f3" stroke-width="0.7" stroke-dasharray="1,1"/>
<line x1="328.19" y1="527.1" x2="328.19" y2="673.3" stroke="#f3f3f3" stroke-width="0.7" stroke-dasharray="1,1"/>
<line x1="393.53" y1="527.1" x2="393.53" y2="673.3" stroke="#f3f3f3" stroke-width="0.7" stroke-dasharray="1,1"/>
<line x1="458.87" y1="527.1" x2="458.87" y2="673.3" stroke="#f3f3f3" stroke-width="0.7" stroke-dasharray="1,1"/>
<line x1="99.5" y1="527.1" x2="99.5" y2="673.3" stroke="#ececec" stroke-width="0.7" />
<line x1="164.84" y1="527.1" x2="164.84" y2="673.3" stroke="#ececec" stroke-width="0.7" />
<line x1="230.18" y1="527.1" x2="230.18" y2="673.3" stroke="#ececec" stroke-width="0.7" />
<line x1="295.52" y1="527.1" x2="295.52" y2="673.3" stroke="#ececec" stroke-width="0.7" />
<line x1="360.86" y1="527.1" x2="360.86" y2="673.3" stroke="#ececec" stroke-width="0.7" />
<line x1="426.2" y1="527.1" x2="426.2" y2="673.3" stroke="#ececec" stroke-width="0.7" />
<line x1="500.1" y1="527.1" x2="500.1" y2="673.3" stroke="#f3f3f3" stroke-width="0.7" stroke-dasharray="1,1"/>
<line x1="548.3" y1="527.1" x2="548.3" y2="673.3" stroke="#f3f3f3" stroke-width="0.7" stroke-dasharray="1,1"/>
<line x1="476" y1="527.1" x2="476" y2="673.3" stroke="#ececec" stroke-width="0.7" />
<line x1="524.2" y1="527.1" x2="524.2" y2="673.3" stroke="#ececec" stroke-width="0.7" />
<rect x="67" y="239.6" width="398" height="5.8" fill="#fff" stroke="#555" stroke-width="0.9"/>
<rect x="255" y="239.6" width="78.3" height="5.8" fill="#555"/>
<text x="274.36" y="256.9" font-size="11.2" font-weight="bold" font-style="italic" fill="#000" textLength="39.8" lengthAdjust="spacingAndGlyphs">FGFR2</text>
<path d="M80.6 310.4h0M80.2 330.4h0M89.8 325.9h0M120.1 304.3h0M131.2 301.3h0M119.7 309.1h0M119.7 311.3h0M116.2 312.6h0M113.5 314.4h0M108.7 318.4h0M106.5 323.2h0M110.4 323.7h0M114 318.8h0M114 321.5h0M125 317.5h0M129.4 315.7h0M134.7 325h0M138.7 329h0M133.8 333.4h0M131.2 333.4h0M128.1 334.7h0M130.3 339.1h0M103.4 332.9h0M111.3 335.6h0M118.8 332h0M126.7 323.2h0M121 326h0M116 328h0M149 320.1h0M152.7 315.9h0M159 318.5h0M160.1 317.5h0M167.5 319h0M168 320.6h0M149 325.4h0M155.3 325.9h0M161.2 327h0M165.9 333.3h0M155.3 334.4h0M174.9 330.7h0M181.8 321.7h0M192.9 323.3h0M186.6 323.8h0M187.1 331.7h0M203.5 339.2h0M230.5 320.2h0M260.6 332.9h0M312.8 314.4h0M317.2 313.1h0M319 322.3h0M320.3 321.5h0M318.5 324.1h0M325.6 312.6h0M329.1 321.5h0M330.9 324.1h0M326.9 330.7h0M317.2 335.1h0M322.5 339.1h0M337.5 325.9h0M347.6 330.3h0M355.6 339.3h0M357.8 341.4h0M358.5 345h0M386.4 290.4h0M379 304h0M380.3 309.7h0M384.6 309h0M394.9 307.3h0M387.4 313.9h0M389.5 313.2h0M393.7 317.5h0M398 319.6h0M400.8 321.7h0M412.1 317.5h0M414.2 314.6h0M417.7 313.2h0M417.7 320.3h0M407.1 321h0M367.6 315.3h0M365.5 332.3h0M363.4 335.8h0M372.6 332.3h0M385.3 331.6h0M390.2 331.6h0M395.1 331.6h0M400.1 330.2h0M410.7 333.7h0M416.3 337.2h0M419.6 339.3h0M376 318h0M382 322h0M404 316h0M410 325h0M418.2 313.3h0M417.3 319.3h0M419.6 339h0M415.9 336.3h0M437.5 320.2h0M431.1 326.2h0M454 324.8h0M447.6 340.4h0M447.1 332.6h0" stroke="#000000" stroke-width="3.6" stroke-linecap="round" fill="none"/>
<path d="M80.3 322h0M131.2 310.4h0M129.4 313.1h0M134.7 315.7h0M138.7 320.1h0M139.1 322.8h0M101.2 318.8h0M100.7 321.5h0M103.8 323.2h0M100.3 331.2h0M105.6 330.3h0M104.3 340.4h0M108.2 337.8h0M110.9 337.3h0M119.3 336h0M128.5 336h0M130.3 342.2h0M113.5 332h0M116.2 332h0M121.5 331.2h0M125.9 331.2h0M117 314h0M121.5 315.7h0M117 317.9h0M132 318h0M136 321h0M133 328h0M102 327h0M106 334h0M154.3 313.2h0M153.8 318h0M152.2 319.6h0M154.8 319.6h0M161.7 321.7h0M159 325.9h0M162.2 325.4h0M168 325.9h0M168 328.6h0M148.5 331.7h0M155.9 331.7h0M155.9 333.9h0M160.6 330.2h0M151.6 337.6h0M165.9 337.6h0M186.6 319h0M188.7 320.1h0M192.9 314.3h0M185 326.5h0M181.8 333.3h0M183.9 334.4h0M187.1 330.7h0M230.5 314.4h0M249.5 330.6h0M249.5 339.2h0M204.2 326.8h0M260.6 326.8h0M312.3 318.8h0M317.2 317h0M317.6 320.6h0M318.5 321h0M319.4 325.9h0M316.3 331.2h0M315.4 333.4h0M315.4 337.8h0M322 329.4h0M322.5 343.5h0M325.6 314.4h0M327.3 317.5h0M329.5 320.6h0M331.3 325.9h0M328.2 329.8h0M337.5 330.7h0M347.6 335.1h0M367.2 295.6h0M375.1 306.2h0M386 307.3h0M401.5 310.4h0M404.3 310.4h0M417.7 304.5h0M419.8 311.8h0M365.5 311.8h0M368.3 311.8h0M371.2 337.9h0M381 333.7h0M407.8 335.1h0M419.1 342.1h0M415.6 331.6h0M417.8 304.6h0M419.6 342.2h0M431.1 320.7h0M430.6 321.6h0M432 326.2h0M431.1 330.3h0M437.5 332.2h0M442.1 325.7h0M447.6 324.4h0M446.7 332.2h0M448 334.9h0M454 334.9h0M456.3 336.3h0M453.5 327.1h0M120.2 322.93h0M119.39 318.82h0M115 323.22h0M115.37 323.37h0M121.73 322.9h0M119.16 327.28h0M117.17 317.81h0M122.68 325.25h0M121.05 325.69h0M125.12 322.08h0M122.38 322.16h0M119.94 326.25h0M116.59 318.2h0M118.66 327.05h0M120.18 323.26h0M120.85 319.55h0M114.82 321.53h0M123.11 319.74h0M119.95 328.49h0M116.8 322.18h0M116.25 321.27h0M122.61 324.69h0M115.86 318.5h0M122.69 326.9h0M123.27 320.33h0M119.59 329.86h0M120.21 330.24h0M113.23 322.83h0M119.5 330.84h0M122.24 321.85h0M125.17 322.28h0M118.56 319.75h0M115.31 318.45h0M119.38 319.38h0M119.57 328.38h0M115.79 322.9h0M124.21 323.23h0M116.96 329.49h0M121.44 322.78h0M121.51 328.62h0M120.81 320.34h0M116.34 322.73h0M122.53 324.8h0M119.65 328.57h0M113.91 325.84h0M101.83 326.71h0M105.35 322.98h0M103.43 326.5h0M101.15 326.73h0M102.8 325.4h0M102.14 329.43h0M100.93 328.17h0M100.71 325.39h0M102.46 320.98h0M104.4 325.76h0M134.89 318.47h0M133.56 318.31h0M130.98 322.79h0M136.63 317.97h0M135.77 320.08h0M134.05 315.5h0M131.2 316.19h0M131.41 316.65h0M132.2 321.8h0M132.78 318.65h0M130.55 315.34h0M128.89 314.61h0M356.45 331.31h0M357.76 312.76h0M357.54 313.02h0M358.11 321.05h0M359.72 316.48h0M359.68 316.19h0M360.4 325.85h0M355.23 330.18h0M356.52 319.06h0M355.81 330.94h0M355.5 328.46h0M357.18 326.99h0M356.61 311.96h0M360.03 326.37h0M355.93 334.4h0M360.01 314.57h0M355.11 325.27h0M355.77 328.3h0M357.58 327.73h0M358.13 329.27h0M359.52 325.07h0M358.25 318.17h0M355.74 312.31h0M359.71 315.15h0M357.35 317.92h0M358.41 323.33h0M359.72 320.9h0M356.99 326.28h0M389.41 329.66h0M381.61 328.96h0M378.33 319.84h0M389.93 327.96h0M376.71 320.11h0M389.03 326.65h0M385.63 316.79h0M383.32 314.05h0M381.68 320.69h0M390.81 323.61h0M383.46 317.43h0M381.68 325.07h0M384.02 316.12h0M390.79 323.36h0M393.42 322.65h0M387.22 320.7h0M386.95 329.54h0M383.74 314.13h0M391.12 320.05h0M382.88 314.03h0M376.61 320.03h0M388.76 325.03h0M380.91 316.04h0M386.84 314.14h0M386.59 322.26h0M385.76 315.18h0M377.22 321.52h0M378.62 324.55h0M381.57 324.17h0M389.5 323.92h0M385.57 316.55h0M380.83 318.12h0M384.88 322.83h0M390.23 318.31h0M390.23 323.26h0M388.41 330.05h0M388.01 315.02h0M390.32 325.96h0M393.23 324.37h0M385.21 317.9h0M386.31 330.86h0M387.64 328.76h0M379.55 326.23h0M389.17 314.28h0M390.76 316.17h0M410.6 318.28h0M412.95 328.15h0M409.11 325.15h0M412.77 326.18h0M402.23 328.75h0M405.66 325.34h0M408.2 330.46h0M406.63 329.65h0M401.31 321.22h0M410.73 325.79h0M413.32 319.33h0M412.87 328.73h0M409.33 331.61h0M409.82 322.85h0M408.11 328.95h0M408.36 324.59h0M409.49 330.91h0M412.81 329.43h0M404.26 325.6h0M413.17 327.49h0M421.31 333.05h0M418.01 323.69h0M418.93 316.72h0M419.5 334.62h0M420.57 314.28h0M418.49 320.5h0M421.04 322.57h0M418.14 324.65h0M418.49 312.88h0M419.87 334.79h0M420.6 328.93h0M418.11 324.92h0M420.05 329.46h0M419.29 313.23h0" stroke="#ff2a0a" stroke-width="3.6" stroke-linecap="round" fill="none"/>
<line x1="67" y1="327.9" x2="465" y2="327.9" stroke="#000" stroke-width="2.2"/>
<line x1="67" y1="327.2" x2="465" y2="327.2" stroke="#ff2a0a" stroke-width="2.2"/>
<line x1="476.2" y1="225" x2="476.2" y2="355.6" stroke="#333" stroke-width="0.9"/>
<path d="M476.2,299 L476.24,299.33 L476.3,299.78 L476.36,300.31 L476.44,300.89 L476.52,301.47 L476.6,302 L476.68,302.51 L476.76,303.02 L476.84,303.53 L476.94,304.04 L477.06,304.53 L477.2,305 L477.37,305.45 L477.56,305.88 L477.77,306.3 L478,306.71 L478.25,307.11 L478.5,307.5 L478.77,307.89 L479.05,308.27 L479.35,308.64 L479.66,309.01 L479.98,309.36 L480.3,309.7 L480.62,310.02 L480.95,310.33 L481.29,310.63 L481.64,310.92 L482.01,311.21 L482.4,311.5 L482.82,311.79 L483.26,312.07 L483.72,312.35 L484.2,312.63 L484.7,312.91 L485.2,313.2 L485.72,313.49 L486.25,313.79 L486.79,314.09 L487.35,314.4 L487.92,314.7 L488.5,315 L489.08,315.3 L489.67,315.61 L490.27,315.92 L490.89,316.23 L491.53,316.52 L492.2,316.8 L492.9,317.06 L493.64,317.3 L494.41,317.54 L495.18,317.76 L495.95,317.98 L496.7,318.2 L497.43,318.4 L498.14,318.59 L498.85,318.77 L499.57,318.96 L500.32,319.17 L501.1,319.4 L501.95,319.66 L502.87,319.93 L503.81,320.21 L504.73,320.52 L505.61,320.85 L506.4,321.2 L507.11,321.6 L507.77,322.04 L508.37,322.51 L508.93,322.97 L509.44,323.41 L509.9,323.8 L510.3,324.14 L510.64,324.46 L510.93,324.74 L511.18,325.01 L511.4,325.26 L511.6,325.5 L511.78,325.72 L511.92,325.91 L512.03,326.09 L512.11,326.26 L512.17,326.43 L512.2,326.6 L512.2,326.78 L512.16,326.96 L512.1,327.13 L512.01,327.3 L511.91,327.46 L511.8,327.6 L511.72,327.7 L511.67,327.76 L511.61,327.81 L511.47,327.88 L511.22,328 L510.8,328.2 L510.2,328.49 L509.45,328.86 L508.59,329.27 L507.63,329.71 L506.59,330.16 L505.5,330.6 L504.33,331.03 L503.06,331.46 L501.72,331.89 L500.33,332.34 L498.91,332.81 L497.5,333.3 L496.03,333.83 L494.46,334.41 L492.86,335 L491.32,335.58 L489.91,336.12 L488.7,336.6 L487.72,337 L486.91,337.35 L486.23,337.66 L485.63,337.94 L485.07,338.22 L484.5,338.5 L483.96,338.76 L483.47,338.98 L483.03,339.19 L482.6,339.43 L482.17,339.72 L481.7,340.1 L481.19,340.59 L480.64,341.16 L480.09,341.79 L479.55,342.45 L479.04,343.09 L478.6,343.7 L478.21,344.29 L477.86,344.89 L477.54,345.48 L477.26,346.04 L477.02,346.56 L476.8,347 L476.62,347.37 L476.49,347.69 L476.39,347.96 L476.31,348.18 L476.25,348.36 L476.2,348.5 Z" fill="rgba(0,0,0,0.45)" stroke="#111" stroke-width="0.8" stroke-linejoin="round"/>
<path d="M476.2,299 L476.24,299.33 L476.3,299.78 L476.36,300.31 L476.44,300.89 L476.52,301.47 L476.6,302 L476.68,302.51 L476.76,303.02 L476.84,303.53 L476.94,304.04 L477.06,304.53 L477.2,305 L477.37,305.45 L477.56,305.88 L477.77,306.3 L478,306.71 L478.25,307.11 L478.5,307.5 L478.77,307.89 L479.05,308.27 L479.35,308.64 L479.66,309.01 L479.98,309.36 L480.3,309.7 L480.62,310.02 L480.95,310.33 L481.29,310.63 L481.64,310.92 L482.01,311.21 L482.4,311.5 L482.82,311.79 L483.26,312.07 L483.72,312.35 L484.2,312.63 L484.7,312.91 L485.2,313.2 L485.72,313.49 L486.25,313.79 L486.79,314.09 L487.35,314.4 L487.92,314.7 L488.5,315 L489.08,315.3 L489.67,315.61 L490.27,315.92 L490.89,316.23 L491.53,316.52 L492.2,316.8 L492.9,317.06 L493.64,317.3 L494.41,317.54 L495.18,317.76 L495.95,317.98 L496.7,318.2 L497.43,318.4 L498.14,318.59 L498.85,318.77 L499.57,318.96 L500.32,319.17 L501.1,319.4 L501.95,319.66 L502.87,319.93 L503.81,320.21 L504.73,320.52 L505.61,320.85 L506.4,321.2 L507.11,321.6 L507.77,322.04 L508.37,322.51 L508.93,322.97 L509.44,323.41 L509.9,323.8 L510.3,324.14 L510.64,324.46 L510.93,324.74 L511.18,325.01 L511.4,325.26 L511.6,325.5 L511.78,325.72 L511.92,325.91 L512.03,326.09 L512.11,326.26 L512.17,326.43 L512.2,326.6 L512.2,326.78 L512.16,326.96 L512.1,327.13 L512.01,327.3 L511.91,327.46 L511.8,327.6 L511.72,327.7 L511.67,327.76 L511.61,327.81 L511.47,327.88 L511.22,328 L510.8,328.2 L510.2,328.49 L509.45,328.86 L508.59,329.27 L507.63,329.71 L506.59,330.16 L505.5,330.6 L504.33,331.03 L503.06,331.46 L501.72,331.89 L500.33,332.34 L498.91,332.81 L497.5,333.3 L496.03,333.83 L494.46,334.41 L492.86,335 L491.32,335.58 L489.91,336.12 L488.7,336.6 L487.72,337 L486.91,337.35 L486.23,337.66 L485.63,337.94 L485.07,338.22 L484.5,338.5 L483.96,338.76 L483.47,338.98 L483.03,339.19 L482.6,339.43 L482.17,339.72 L481.7,340.1 L481.19,340.59 L480.64,341.16 L480.09,341.79 L479.55,342.45 L479.04,343.09 L478.6,343.7 L478.21,344.29 L477.86,344.89 L477.54,345.48 L477.26,346.04 L477.02,346.56 L476.8,347 L476.62,347.37 L476.49,347.69 L476.39,347.96 L476.31,348.18 L476.25,348.36 L476.2,348.5 Z" fill="rgba(255,0,0,0.45)" stroke="#111" stroke-width="0.8" stroke-linejoin="round"/>
<line x1="472.7" y1="328.2" x2="551.6" y2="328.2" stroke="#000" stroke-width="2.2"/>
<line x1="472.7" y1="327.4" x2="551.6" y2="327.4" stroke="#ff2a0a" stroke-width="2.2"/>
<path d="M80.6 437.7h0M81.1 451.7h0M89.7 421.4h0M102.1 401.5h0M131 401.5h0M105.6 421h0M106.8 423.9h0M109.8 421.2h0M116.3 421.2h0M101.5 425.9h0M101.5 430.2h0M100.9 436.3h0M102.1 443.6h0M112.7 431.8h0M118 429.2h0M120.4 430.4h0M123.9 432.5h0M126.9 430.4h0M130.4 429.2h0M131.6 418.6h0M131 421h0M137.5 423.9h0M129.2 436.3h0M134 441.3h0M138.7 438.1h0M138.7 443.6h0M135.1 449.9h0M108.6 445.5h0M100.9 452.9h0M103.9 456.4h0M110.9 460.5h0M115.7 465.2h0M104.4 468.4h0M118.6 455.2h0M119.8 458.8h0M123.9 454.6h0M126.9 462.3h0M126.9 471.2h0M130.4 474.7h0M128.6 454.6h0M130.4 449.9h0M153 408.8h0M159.8 420.9h0M161.6 422.4h0M154.8 425.6h0M161.6 428.6h0M165.9 428.6h0M155.1 434.8h0M168.1 436.4h0M153 443.8h0M168.1 443.8h0M175.2 445.4h0M182 445.4h0M204.2 445.4h0M154.2 449.3h0M155.4 451.2h0M156 454.3h0M158.5 457.7h0M149.3 459.2h0M148.4 461h0M151.7 466.6h0M186.9 430.2h0M187.5 431.8h0M186.3 438h0M192.8 425.6h0M184.7 462.3h0M188.8 463.9h0M183.8 477.5h0M230.3 451.6h0M249.7 404.5h0M249.7 418h0M260.9 424.2h0M313.3 428.3h0M317.7 432.7h0M320 432.7h0M325.9 420.9h0M327.1 426.8h0M313.3 442.4h0M317.7 446h0M321.2 448.3h0M329.5 450.4h0M330.9 444.5h0M316.2 457.7h0M323 463.6h0M328.6 460.7h0M337.7 465.1h0M315.3 476h0M347.7 474.5h0M404.3 395.4h0M390.2 407.2h0M397.3 411.9h0M407.1 411.9h0M420.5 411.9h0M377.5 416.5h0M388.1 415.4h0M390.2 417.5h0M375.4 419.6h0M376.1 422.7h0M398 419.6h0M401.5 419.6h0M412.1 421h0M420.5 418.9h0M419.1 421h0M415.6 424.1h0M386 424.1h0M395.9 425.6h0M376.8 427.4h0M391.6 427.4h0M404.3 427.4h0M419.1 426.7h0M419.1 430.9h0M381 430.9h0M384.6 430.2h0M387.4 430.2h0M401.5 432h0M410 432h0M380.3 432.3h0M395.1 433.7h0M383.9 435.2h0M388.1 436.6h0M385.3 438h0M417.7 435.2h0M419.1 438h0M366.9 434.9h0M364.8 438h0M369 438.7h0M373.3 439.7h0M369 443.6h0M381 442.9h0M388.1 442.9h0M393 441.1h0M390.9 442.2h0M388.1 445.7h0M382.5 447.8h0M376.8 450.4h0M364.1 450.7h0M366.9 454.2h0M371.2 456.3h0M378.9 452.8h0M379.6 456.3h0M388.8 453.2h0M378.9 462.2h0M388.1 468.3h0M388.4 470.4h0M407.1 447.8h0M407.8 454.9h0M410 462.2h0M407.8 466.9h0M407.1 474.7h0M418.4 447.1h0M419.1 454.9h0M414.2 456.3h0M422 457.7h0M416.3 465.5h0M419.8 465.5h0M432 428.3h0M430.5 432.7h0M431 448.3h0M437 443.6h0M442.9 448.3h0M447.3 450.4h0M453.2 451.9h0M456.1 456.3h0M445.8 459.2h0M453.8 462.2h0M128.34 439.25h0M125.31 442.43h0M125.97 440.4h0M114.98 441.85h0M121.18 447.68h0M119.96 445.66h0M119.52 446.72h0M127.23 447.45h0M124.59 436.69h0M125.23 447.35h0M123.52 450.42h0M128.65 445.14h0M118.27 443.48h0M121.86 450.25h0M123.68 444.94h0M123.44 450.13h0M119.91 446.83h0M123.1 441.44h0M118.92 437.46h0M118.3 436.3h0M121.27 440.61h0M124.14 448.55h0M117.89 436.86h0M123.26 438.64h0M129.26 441.8h0M127.68 438.93h0M115 445.03h0M124.59 439.1h0M360.19 481.52h0M358.85 481.97h0M360.51 436.15h0M359.09 469.03h0M359.1 446.68h0M358.04 460.34h0M359.76 430.83h0M357.1 445.32h0M359.43 434.41h0M355.35 434.35h0M355.65 451.94h0M359.85 447.53h0M355.57 464.85h0M356.86 459.41h0M359.19 453.07h0M359.11 462.08h0M359.77 469.93h0M360.05 469.05h0M356.58 455.75h0M359.32 471.16h0M359.09 474.37h0M359.62 457.76h0M358.59 438.96h0M357.67 453.99h0M360.12 456.66h0M357.46 443.05h0M359.96 452.46h0M356.07 438.83h0M359.92 450.69h0M355.61 459.78h0M358.29 454.69h0M359.52 443.63h0M357.93 441.79h0M358.43 447.56h0M359.42 440.55h0M356.15 446.51h0M380.8 435.31h0M381.25 425.83h0M385.38 426.71h0M380.77 425.08h0M384.4 425.4h0M382.71 433.8h0M379.26 428.58h0M382.26 429.75h0M385.29 423.28h0M387.66 426.32h0M420.08 423.66h0M418.52 424.87h0M418.49 425.96h0M418.62 422.73h0M420.26 431.57h0M419.44 431.17h0M420.16 421.92h0M418.4 434.32h0M418.32 431.11h0M419.74 437.99h0" stroke="#000000" stroke-width="3.6" stroke-linecap="round" fill="none"/>
<path d="M89.8 469.9h0M80.4 482.2h0M80.4 483.5h0M80.4 490.9h0M167.6 485.9h0M167.6 490.9h0M175 495.8h0M181.2 485.9h0M186.1 485.9h0M187.3 489.6h0M192.3 488.4h0M183.6 493.3h0M187.3 497h0M183.6 500.7h0M203.8 495.7h0M166.4 497h0M230.3 489.8h0M249.7 491.2h0M249.7 493h0M260.9 498.8h0M318.3 484.7h0M347.1 497.1h0M100.03 490.83h0M112.64 493.41h0M101.33 495.93h0M138.66 492.96h0M126.92 497.11h0M134.09 496.88h0M119.68 486.27h0M132.09 497.23h0M128.32 489.56h0M139.39 494.03h0M112.62 496.4h0M109.05 488.49h0M136.57 485.8h0M135.14 490.75h0M123.11 495.02h0M136.46 488.19h0M103.75 492.43h0M109.05 491.15h0M104.45 486.31h0M122.93 485.75h0M110.77 490.63h0M103.84 496.68h0M136.42 485.47h0M132.6 487.55h0M129.47 485.88h0M130.12 498.52h0M110.47 487.39h0M113.76 497.47h0M131.52 487.27h0M136.43 495.72h0M117.19 492.73h0M123.62 486.8h0M118.21 488.29h0M122.31 495.01h0M124.38 490.67h0M126.73 486.26h0M128.16 493.15h0M128.34 489.4h0M123.71 484.9h0M122.29 491.72h0M120.27 493.08h0M126.07 487.95h0M124.15 489.5h0M129.51 491.45h0M117.91 485.99h0M127.82 488.48h0M118.3 490.69h0M117.82 490.32h0M120.34 487.83h0M126.25 486.98h0M120.13 490.77h0M119.71 487.27h0M119.85 489.85h0M128.44 486.17h0M126.72 489.18h0M124.22 490.03h0M124.75 486.15h0M124.97 488.83h0M127.83 491.15h0M121.43 495.84h0M116.59 492.28h0M116.06 492.82h0M116 487.57h0M125.08 484.25h0M126.87 488.67h0M129.94 490.83h0M128.29 488.13h0M120.99 492.41h0M127.44 492.31h0M117.06 489.06h0M152.54 488.47h0M149.53 496.22h0M149.91 490.31h0M148.08 495.57h0M157.12 486.17h0M161.96 499.92h0M158.98 497.09h0M158.28 485.33h0M151.87 488.55h0M148.12 494.58h0M156.61 490.43h0M158.95 488.51h0M151.98 486.73h0M151.3 497.76h0M322.8 496.68h0M330.36 495.66h0M320.22 500.03h0M314.6 491.99h0M330.7 495.89h0M320.07 497.99h0M328.16 496.49h0M318.33 495.86h0M326.12 498.18h0M323.26 499.47h0M327.4 489.04h0M324.57 488.85h0M325.35 490.72h0M332.96 490.96h0M360.34 498.73h0M357.26 495.47h0M356.22 492.65h0M357.75 497.09h0M358.26 489.82h0M359.3 494.51h0M358.39 493.58h0M360.91 496.34h0M359.4 494.32h0M357.47 493.34h0M359.52 493.48h0M355.01 490.61h0M354.9 488.35h0M357.16 492.69h0M357.88 490.36h0M356.22 493.6h0M356.65 491.14h0M358.14 497.78h0M354.95 487.88h0M357.81 499.5h0M359.18 492.52h0M361.7 496.66h0M360.61 498.82h0M354.79 490.27h0M360.35 492.86h0M361.16 488.64h0M371.38 495.21h0M366.11 497.3h0M367.36 493.59h0M363.84 496.84h0M363.46 492h0M362.88 489.16h0M364.97 489.44h0M366.69 492.47h0M374.51 492.19h0M387.95 488.59h0M400.71 490.16h0M376.33 499.43h0M422.28 488.67h0M406.63 494.07h0M386.05 493.34h0M386.9 489.27h0M396.32 485.7h0M385.12 500.25h0M412.19 490.14h0M423.53 490.1h0M416.25 490h0M418.4 492.01h0M417.28 487.12h0M393.36 490.34h0M412.76 498.41h0M380.39 491.36h0M382.25 486.02h0M380.12 486.14h0M388.72 491.68h0M418.92 495.1h0M411.72 490.12h0M389.72 491.39h0M385.26 485.31h0M387.4 499.39h0M376.16 492.81h0M385.22 496.82h0M375.51 492.91h0M409.92 492.17h0M380.79 498.78h0M374.56 499.36h0M414.59 498.7h0M416.96 490.73h0M404.97 492.29h0M402.91 490.89h0M416.42 489.77h0M401.72 486.06h0M376.54 498.72h0M391.47 490.81h0M422.98 496.2h0M381.39 493.42h0M397.8 494.37h0M387.26 489.27h0M420.93 494.24h0M401.2 495.72h0M411.28 487.77h0M412.82 492.48h0M381.14 489.9h0M423.24 498.1h0M418.86 492.76h0M405.48 491.14h0M410.41 493.3h0M391.51 500.15h0M398.7 485.63h0M388.66 482.12h0M379.04 484.44h0M377.81 484.42h0M381.92 484.95h0M385.74 485.96h0M374.91 483.04h0M376.1 483.66h0M382.22 487.04h0M374.25 486.77h0M376.8 486.31h0M451.64 498.84h0M443.62 488.14h0M435.15 492.51h0M446.53 498.64h0M452.47 488.23h0M430.48 494.99h0M432.79 494.21h0M441.67 493.77h0M436.96 497.97h0M435.33 491.65h0M431.45 490.83h0M430.61 494.85h0M418.05 488.61h0M420.1 500.19h0M418.88 497.96h0M420.11 496.35h0M419.61 498.32h0M418.83 490.29h0M418.67 488.39h0M419.33 494.25h0M418.5 485.62h0M418.06 488.05h0" stroke="#ff2a0a" stroke-width="3.6" stroke-linecap="round" fill="none"/>
<line x1="67" y1="447.1" x2="465" y2="447.1" stroke="#000" stroke-width="2.2"/>
<line x1="67" y1="492.6" x2="465" y2="492.6" stroke="#ff2a0a" stroke-width="2.2"/>
<line x1="476.2" y1="375" x2="476.2" y2="512.8" stroke="#333" stroke-width="0.9"/>
<path d="M476.2,388.5 L476.23,388.86 L476.27,389.35 L476.32,389.94 L476.38,390.59 L476.44,391.29 L476.5,392 L476.56,392.73 L476.61,393.52 L476.66,394.34 L476.73,395.2 L476.8,396.09 L476.9,397 L477.01,397.94 L477.14,398.91 L477.27,399.91 L477.43,400.93 L477.6,401.97 L477.8,403 L478.01,404.05 L478.24,405.13 L478.48,406.23 L478.75,407.31 L479.06,408.38 L479.4,409.4 L479.79,410.38 L480.22,411.33 L480.68,412.25 L481.17,413.16 L481.68,414.08 L482.2,415 L482.75,415.94 L483.32,416.87 L483.92,417.81 L484.52,418.75 L485.12,419.68 L485.7,420.6 L486.27,421.51 L486.85,422.4 L487.42,423.29 L487.97,424.19 L488.5,425.08 L489,426 L489.46,426.94 L489.9,427.89 L490.31,428.86 L490.69,429.82 L491.06,430.77 L491.4,431.7 L491.72,432.62 L492.01,433.53 L492.29,434.42 L492.54,435.31 L492.78,436.17 L493,437 L493.21,437.8 L493.4,438.56 L493.57,439.29 L493.73,440.02 L493.87,440.75 L494,441.5 L494.14,442.27 L494.29,443.05 L494.42,443.84 L494.51,444.61 L494.55,445.37 L494.5,446.1 L494.36,446.79 L494.14,447.45 L493.86,448.09 L493.53,448.73 L493.17,449.36 L492.8,450 L492.41,450.64 L491.97,451.27 L491.51,451.91 L491.03,452.55 L490.52,453.21 L490,453.9 L489.45,454.63 L488.88,455.39 L488.28,456.17 L487.68,456.96 L487.08,457.74 L486.5,458.5 L485.93,459.24 L485.36,459.96 L484.79,460.68 L484.23,461.39 L483.7,462.09 L483.2,462.8 L482.73,463.5 L482.29,464.19 L481.88,464.88 L481.47,465.57 L481.08,466.27 L480.7,467 L480.32,467.76 L479.94,468.54 L479.57,469.34 L479.23,470.14 L478.9,470.93 L478.6,471.7 L478.33,472.44 L478.09,473.15 L477.87,473.86 L477.67,474.56 L477.48,475.27 L477.3,476 L477.13,476.79 L476.98,477.63 L476.84,478.48 L476.71,479.29 L476.6,480.02 L476.5,480.6 L476.42,481.03 L476.35,481.36 L476.3,481.59 L476.26,481.76 L476.23,481.88 L476.2,482 Z" fill="rgba(0,0,0,0.45)" stroke="#111" stroke-width="0.8" stroke-linejoin="round"/>
<path d="M476.2,480.2 L476.25,480.26 L476.3,480.34 L476.37,480.44 L476.47,480.56 L476.61,480.68 L476.8,480.8 L477.04,480.93 L477.31,481.06 L477.62,481.21 L477.98,481.36 L478.41,481.52 L478.9,481.7 L479.45,481.89 L480.03,482.08 L480.68,482.28 L481.41,482.5 L482.24,482.74 L483.2,483 L484.28,483.3 L485.48,483.62 L486.78,483.97 L488.17,484.32 L489.65,484.67 L491.2,485 L492.84,485.32 L494.57,485.63 L496.39,485.93 L498.27,486.23 L500.22,486.52 L502.2,486.8 L504.23,487.06 L506.31,487.3 L508.45,487.54 L510.64,487.77 L512.89,488.02 L515.2,488.3 L517.6,488.6 L520.09,488.93 L522.64,489.27 L525.2,489.61 L527.73,489.96 L530.2,490.3 L532.78,490.65 L535.53,491.01 L538.26,491.38 L540.76,491.73 L542.8,492.04 L544.2,492.3 L544.86,492.48 L544.94,492.6 L544.58,492.68 L543.9,492.76 L543.07,492.85 L542.2,493 L541.21,493.2 L539.98,493.44 L538.58,493.69 L537.09,493.96 L535.6,494.23 L534.2,494.5 L532.9,494.76 L531.64,495.02 L530.39,495.29 L529.09,495.56 L527.71,495.83 L526.2,496.1 L524.54,496.38 L522.76,496.66 L520.89,496.95 L518.98,497.24 L517.07,497.52 L515.2,497.8 L513.38,498.07 L511.57,498.34 L509.76,498.61 L507.94,498.87 L506.09,499.13 L504.2,499.4 L502.23,499.67 L500.2,499.94 L498.14,500.22 L496.09,500.49 L494.1,500.75 L492.2,501 L490.35,501.24 L488.5,501.47 L486.7,501.69 L485.01,501.9 L483.5,502.1 L482.2,502.3 L481.16,502.49 L480.33,502.67 L479.67,502.84 L479.13,503.01 L478.66,503.16 L478.2,503.3 L477.78,503.43 L477.44,503.54 L477.17,503.64 L476.96,503.73 L476.77,503.82 L476.6,503.9 L476.46,503.98 L476.36,504.06 L476.3,504.14 L476.26,504.2 L476.23,504.26 L476.2,504.3 Z" fill="rgba(255,0,0,0.45)" stroke="#111" stroke-width="0.8" stroke-linejoin="round"/>
<line x1="472.7" y1="447.0" x2="551.6" y2="447.0" stroke="#000" stroke-width="2.2"/>
<line x1="472.7" y1="492.6" x2="551.6" y2="492.6" stroke="#ff2a0a" stroke-width="2.2"/>
<path d="M80 603h0M80.5 605h0M80.4 622.3h0M89.5 607h0M102.1 552.7h0M101.5 562.9h0M101.5 576.3h0M119.2 560.1h0M116.8 564.5h0M131 560.3h0M131.6 562.1h0M130.4 564.5h0M116.8 572.2h0M115.1 575.1h0M121.6 574.5h0M113.9 579.2h0M122.2 579.2h0M119.2 581.6h0M123.3 582.8h0M133.4 579.8h0M135.1 580.4h0M130.4 582.8h0M128.6 585.7h0M106.2 585.4h0M137.5 586.6h0M109.8 589.9h0M100.9 591.6h0M102.1 593.4h0M105.6 595.8h0M113.3 596.4h0M113.3 589.9h0M118.6 589.9h0M121.6 592.2h0M118.6 594.6h0M123.3 597h0M129.8 592.2h0M130.4 589.3h0M138.7 594.6h0M129.2 598.7h0M119.2 599.9h0M121.6 602.9h0M115.7 601.7h0M115.7 607h0M108.6 605.8h0M110.9 607.6h0M104.4 609.3h0M102.7 612.3h0M125.7 607h0M128.1 604.6h0M127.5 611.7h0M129.8 612.3h0M138.7 601.7h0M126.9 619.4h0M130.4 622.7h0M153 551.2h0M154.8 563.3h0M151.7 573.4h0M153.6 577.7h0M154.8 580.8h0M160.4 574.9h0M162 582.3h0M156 585.1h0M158.5 585.1h0M168.1 582.3h0M148.9 588.2h0M155.4 589.7h0M155.1 595.6h0M167.8 594.1h0M175.2 594.1h0M188.8 574.9h0M187.5 582.3h0M186.3 583.9h0M192.8 585.1h0M186.3 588.2h0M148.4 606.1h0M149.9 607.3h0M161.6 604.5h0M185.1 604.5h0M182 612h0M204 601.5h0M165.7 622.5h0M183.8 628.3h0M183.6 628.5h0M166.4 622.3h0M230.3 598.4h0M249.7 597h0M249.7 609h0M260.8 580.8h0M317.1 556.8h0M313.3 574.5h0M320 580.3h0M325.9 575.9h0M322.1 584.8h0M318.3 589.2h0M328.9 591.5h0M313.3 597.4h0M319.1 601h0M330.9 602.4h0M316.2 609.2h0M328 612.2h0M316.2 617.2h0M337.7 616.3h0M322.1 625.1h0M347.7 631h0M366.9 574.9h0M377.5 571.8h0M375.4 575.3h0M383.9 570.4h0M390.2 574.9h0M397.3 574.9h0M404.3 570.4h0M420.5 573.2h0M420.5 577.7h0M380.3 579.6h0M375.4 581h0M388.1 579.6h0M387.4 582h0M400.8 579.6h0M407.1 578.9h0M412.1 581h0M404.3 582.4h0M364.8 583.4h0M368.3 585.9h0M382.5 583.8h0M386 586.6h0M397.3 585.2h0M419.1 583.1h0M419.1 585.9h0M376.1 590.1h0M386.7 589.9h0M366.9 590.9h0M419.1 590.1h0M415.6 593.7h0M364.1 594.4h0M376.1 594.4h0M391.6 595.1h0M395.9 594.4h0M383.9 595.8h0M419.1 597.2h0M379.6 599.3h0M384.6 598.6h0M400.1 600h0M380.3 602.1h0M381.7 605h0M388.1 604.3h0M395.1 602.8h0M407.8 603.6h0M419.1 602.8h0M407.8 607.1h0M384.6 607.1h0M387.4 609.9h0M383.9 611.3h0M373.3 612h0M364.1 613.4h0M395.1 612h0M393 614.1h0M388.1 614.8h0M410 614.8h0M414.9 613.4h0M416.3 614.8h0M388.8 618.4h0M371.2 623.3h0M407.1 623.3h0M419.1 621.9h0M422 619.1h0M431 595h0M429.6 603.9h0M437 603.3h0M447.3 592.1h0M453.2 599.5h0M456.1 606.9h0M447.3 609.8h0M442.3 615.7h0M114.19 593.42h0M123.36 591.69h0M121.02 589.42h0M113.04 595.94h0M122.72 583.95h0M116.35 594.65h0M121.88 584.28h0M117.42 588.71h0M119.64 597.4h0M114.05 588.52h0M114.47 596.72h0M120.73 590.52h0M357.89 560.15h0M358.8 563.89h0M357.81 576.18h0M358.08 566.3h0M357.36 564.27h0M358.69 572.25h0M356.18 559.08h0M357.57 562.06h0M358.59 561.98h0M358.12 567.78h0M360.47 564.92h0M356.91 565.24h0M358.9 587.42h0M356.81 596.09h0M358.25 584.31h0M359.83 585.33h0M357.08 593.05h0M357.88 597.09h0M356.34 595.05h0M356.5 585.14h0M359.09 597.28h0M356.14 583.61h0M356.6 593.57h0M355.76 600.49h0M355.69 596.66h0M359.62 590.07h0M359.68 609.98h0M359.47 616.77h0M359.86 620.5h0M359.53 621.69h0M356.87 607.53h0M356.46 619.71h0M358.19 615.39h0M357.97 607.43h0M360.23 616.67h0M419.55 595.24h0M420.6 594.27h0M419.39 608.93h0M418.02 610.16h0M419.69 587.96h0M418.02 596.18h0M418.53 573.08h0M420.39 606.66h0" stroke="#000000" stroke-width="3.6" stroke-linecap="round" fill="none"/>
<path d="M80.4 635.9h0M80.4 639.6h0M89.8 639.6h0M102.2 628.5h0M105.9 632.2h0M136.7 630.9h0M132.3 627.2h0M152.8 616.1h0M154 621h0M160.2 617.3h0M149.1 630.9h0M154 628.5h0M155.2 632.2h0M149.1 635.9h0M156.5 639.6h0M161.4 633.4h0M160.2 637.1h0M153 616.4h0M154.6 620.6h0M160.4 617.8h0M168.1 625.5h0M186.3 622.5h0M154.6 628.3h0M192.8 628.3h0M167.6 626h0M167.6 630.9h0M175 630.9h0M166.4 647h0M186.1 622.3h0M192.3 628.5h0M188.6 635.9h0M181.2 639.6h0M184.9 643.3h0M187.3 644.5h0M203.9 640.2h0M230.3 634.1h0M249.7 634.1h0M249.7 635.8h0M260.8 637.1h0M317.1 617.7h0M322.1 654.5h0M313.3 629.5h0M313.3 648.6h0M337.7 643.6h0M347.7 652.4h0M378 614.7h0M381 613.3h0M388.4 617.7h0M367.7 620.6h0M401.6 620.6h0M376.8 617h0M380.3 614.8h0M366.9 621.2h0M388.8 617.7h0M401.5 621.2h0M437 626.5h0M447.3 647.1h0M453.2 633.9h0M364.8 650.1h0M136.32 643.01h0M116.22 646.2h0M109.48 632.41h0M118.77 641.23h0M103.74 628.21h0M137.61 627.29h0M129.92 636.85h0M138.77 645.04h0M118.59 638.48h0M128.07 632.49h0M100.49 647.81h0M121.83 643.8h0M121.6 628.6h0M103.88 631.93h0M138.99 644.13h0M111.61 636.37h0M139.11 637.61h0M112.59 638.1h0M106.57 638.96h0M102.62 637.93h0M104.22 627.82h0M130.43 637.61h0M106.2 635.37h0M135.83 634.58h0M110.81 637.08h0M136.14 639.93h0M118.98 640.18h0M114.06 646.63h0M110.78 631.59h0M119.54 643.82h0M127.44 639.25h0M115.93 633.06h0M122.04 639.73h0M121.29 637.56h0M125.74 641.55h0M121.94 630.79h0M117.89 632.7h0M114.57 634.73h0M120.44 638.79h0M125.98 635.78h0M130.08 637.02h0M127.33 638.16h0M126.39 640.57h0M119.81 636.25h0M124.41 640h0M123.86 635.03h0M121.78 637.14h0M119.63 634.5h0M119.45 643.57h0M120.01 642.77h0M125.77 643.03h0M125.03 643.4h0M118.82 639.16h0M122.5 634.6h0M123.81 639.76h0M121.1 635.95h0M121.57 637.24h0M116.35 635.2h0M121.58 630.26h0M123.44 630.9h0M123.19 630.83h0M115.7 636.41h0M127.32 641.46h0M120.71 637.25h0M122.94 643.57h0M125.8 640.07h0M119.93 635.8h0M116.71 632.69h0M129.56 640.39h0M128.6 634.53h0M121.97 634.37h0M120.11 642.6h0M123.03 638.06h0M124.55 633.66h0M124.11 632.46h0M116.53 642.76h0M118.15 640.02h0M118.77 639.72h0M115.61 633.19h0M130.03 635.41h0M330.19 646.5h0M314.53 639.23h0M315.88 632.93h0M317.65 630.15h0M323.06 630h0M318.17 628.24h0M316.93 642.81h0M317.31 647.29h0M313.93 625.64h0M316.58 636.84h0M317.76 634.21h0M326.16 640.24h0M316.43 645.23h0M318.73 638.13h0M357.17 645.42h0M358.78 638.96h0M355.78 628.43h0M356.43 647.75h0M361.35 636.64h0M355.04 631.47h0M361.42 629.71h0M357.58 628.31h0M358.17 635.12h0M361.78 651.08h0M358.22 647.38h0M359.49 638.06h0M360.2 627.36h0M355.74 647.13h0M358.33 643.58h0M358.98 647.54h0M356.36 630.92h0M356.64 648.2h0M358.23 645.59h0M360.21 635.06h0M359.95 646.18h0M358.27 639.65h0M357.98 637.87h0M356.06 640.84h0M360.84 632.87h0M357.59 635.83h0M356.69 649.66h0M359.89 628.66h0M358.32 635.23h0M357.2 629.26h0M399.35 630.99h0M404 625.01h0M394.1 633.09h0M401.63 623.56h0M410.84 635.14h0M377.6 626.17h0M412.45 622.32h0M398.35 629.68h0M383.27 646.16h0M370.57 626.61h0M362.7 631.14h0M366.7 623.1h0M404.38 645.62h0M372.44 637.02h0M421.73 626.42h0M371.6 634.63h0M365.22 636.5h0M413.7 644h0M369.06 635.92h0M393.25 633.27h0M373.4 637.14h0M371.44 639.06h0M367.52 622.02h0M415.01 630.42h0M387.34 634.83h0M391.69 622.44h0M412.77 646.46h0M380.81 629.16h0M379.23 638.51h0M394.69 635.98h0M399.9 628.49h0M394.23 635.31h0M400.82 638h0M422.84 625.29h0M393.65 636.82h0M371.99 631.26h0M377.24 635.6h0M405.56 628.63h0M390.67 627.17h0M387.39 646.76h0M396.62 627.69h0M380.22 623.37h0M396.47 641.22h0M371.38 629.74h0M382 624.74h0M389.94 638.85h0M381.05 642.56h0M388.27 624.81h0M390.52 622.2h0M382.39 632.9h0M375.54 621.56h0M381.38 639.57h0M376.11 630.34h0M388.3 623.46h0M381.23 639.81h0M393.72 632.41h0M388.79 619.16h0M377.09 627.54h0M371.71 629.81h0M388.4 634.97h0M388.25 631.28h0M395.14 624.8h0M378.93 624.71h0M378.88 639.86h0M383.71 640.89h0M384.58 628.3h0M388.49 619.83h0M384.38 627.44h0M384.5 628.77h0M389.91 634.6h0M417.8 631.42h0M419.05 628.7h0M418.36 636.56h0M418.34 626.66h0M418.78 638.44h0M419.24 624.8h0M418.44 627.53h0M420.27 622.07h0M418.53 635.01h0M418.06 632.54h0M451.37 637.82h0M447.17 639.54h0M452.63 646.48h0M444.11 642.3h0M447.42 644.07h0M438.66 641.03h0M438.89 644.58h0M450.77 635.65h0M442.66 646.77h0M448.28 633.8h0M440.82 631.36h0M434.61 643.67h0" stroke="#ff2a0a" stroke-width="3.6" stroke-linecap="round" fill="none"/>
<line x1="67" y1="591.8" x2="465" y2="591.8" stroke="#000" stroke-width="2.2"/>
<line x1="67" y1="637.3" x2="465" y2="637.3" stroke="#ff2a0a" stroke-width="2.2"/>
<line x1="476.2" y1="534" x2="476.2" y2="667" stroke="#333" stroke-width="0.9"/>
<path d="M476.2,546 L476.24,546.54 L476.3,547.3 L476.37,548.19 L476.44,549.15 L476.52,550.11 L476.6,551 L476.68,551.84 L476.75,552.7 L476.83,553.56 L476.91,554.41 L477,555.22 L477.1,556 L477.2,556.72 L477.3,557.39 L477.41,558.04 L477.53,558.67 L477.66,559.32 L477.8,560 L477.95,560.72 L478.1,561.47 L478.26,562.24 L478.44,562.99 L478.65,563.72 L478.9,564.4 L479.2,565.02 L479.53,565.6 L479.9,566.14 L480.29,566.68 L480.69,567.23 L481.1,567.8 L481.52,568.39 L481.96,569 L482.41,569.61 L482.87,570.23 L483.34,570.86 L483.8,571.5 L484.26,572.16 L484.72,572.83 L485.19,573.51 L485.66,574.2 L486.13,574.89 L486.6,575.6 L487.08,576.32 L487.57,577.04 L488.06,577.78 L488.54,578.52 L489.03,579.26 L489.5,580 L489.98,580.74 L490.46,581.5 L490.94,582.25 L491.4,582.99 L491.82,583.71 L492.2,584.4 L492.53,585.05 L492.82,585.66 L493.07,586.25 L493.3,586.83 L493.51,587.41 L493.7,588 L493.88,588.61 L494.06,589.23 L494.22,589.84 L494.34,590.45 L494.4,591.04 L494.4,591.6 L494.32,592.12 L494.17,592.6 L493.97,593.07 L493.74,593.53 L493.47,594 L493.2,594.5 L492.9,595.02 L492.57,595.54 L492.21,596.07 L491.83,596.62 L491.46,597.19 L491.1,597.8 L490.75,598.44 L490.41,599.11 L490.07,599.81 L489.72,600.53 L489.37,601.26 L489,602 L488.62,602.77 L488.21,603.58 L487.81,604.41 L487.4,605.22 L486.99,605.99 L486.6,606.7 L486.22,607.33 L485.85,607.9 L485.49,608.44 L485.13,608.95 L484.76,609.47 L484.4,610 L484.03,610.55 L483.66,611.09 L483.29,611.62 L482.92,612.17 L482.56,612.73 L482.2,613.3 L481.85,613.9 L481.49,614.53 L481.14,615.17 L480.81,615.8 L480.49,616.42 L480.2,617 L479.95,617.55 L479.73,618.08 L479.53,618.59 L479.34,619.09 L479.13,619.55 L478.9,620 L478.63,620.42 L478.34,620.83 L478.03,621.21 L477.73,621.56 L477.45,621.89 L477.2,622.2 L476.98,622.48 L476.78,622.75 L476.59,622.99 L476.43,623.2 L476.3,623.37 L476.2,623.5 Z" fill="rgba(0,0,0,0.45)" stroke="#111" stroke-width="0.8" stroke-linejoin="round"/>
<path d="M476.2,612.8 L476.25,612.83 L476.31,612.86 L476.39,612.91 L476.48,612.98 L476.58,613.11 L476.7,613.3 L476.83,613.55 L476.98,613.86 L477.14,614.21 L477.31,614.61 L477.5,615.07 L477.7,615.6 L477.91,616.23 L478.14,616.98 L478.38,617.79 L478.63,618.6 L478.9,619.35 L479.2,620 L479.52,620.53 L479.85,621 L480.21,621.41 L480.58,621.78 L480.98,622.14 L481.4,622.5 L481.83,622.85 L482.27,623.19 L482.74,623.51 L483.24,623.81 L483.79,624.11 L484.4,624.4 L485.08,624.68 L485.81,624.95 L486.59,625.21 L487.42,625.46 L488.29,625.73 L489.2,626 L490.11,626.27 L491.01,626.53 L491.96,626.79 L492.99,627.08 L494.15,627.41 L495.5,627.8 L497.11,628.26 L498.97,628.79 L500.96,629.36 L502.97,629.94 L504.89,630.53 L506.6,631.1 L508.13,631.67 L509.57,632.26 L510.92,632.86 L512.18,633.43 L513.34,633.95 L514.4,634.4 L515.33,634.77 L516.14,635.07 L516.84,635.32 L517.49,635.55 L518.09,635.77 L518.7,636 L519.39,636.24 L520.14,636.46 L520.87,636.68 L521.46,636.89 L521.8,637.09 L521.8,637.3 L521.39,637.5 L520.64,637.7 L519.65,637.89 L518.51,638.08 L517.33,638.28 L516.2,638.5 L515.15,638.71 L514.12,638.91 L513.04,639.12 L511.85,639.36 L510.49,639.64 L508.9,640 L506.94,640.46 L504.64,641.01 L502.17,641.61 L499.7,642.21 L497.42,642.79 L495.5,643.3 L493.96,643.73 L492.65,644.11 L491.53,644.46 L490.54,644.8 L489.61,645.14 L488.7,645.5 L487.84,645.88 L487.07,646.26 L486.37,646.65 L485.72,647.04 L485.07,647.42 L484.4,647.8 L483.7,648.17 L483,648.54 L482.3,648.91 L481.63,649.27 L480.99,649.63 L480.4,650 L479.86,650.35 L479.36,650.69 L478.89,651.03 L478.46,651.38 L478.07,651.76 L477.7,652.2 L477.36,652.74 L477.06,653.37 L476.78,654.04 L476.54,654.67 L476.35,655.22 L476.2,655.6 Z" fill="rgba(255,0,0,0.45)" stroke="#111" stroke-width="0.8" stroke-linejoin="round"/>
<line x1="472.7" y1="591.8" x2="551.6" y2="591.8" stroke="#000" stroke-width="2.2"/>
<line x1="472.7" y1="637.3" x2="551.6" y2="637.3" stroke="#ff2a0a" stroke-width="2.2"/>
<rect x="67" y="219.1" width="398" height="142.1" fill="none" stroke="#cfcfcf" stroke-width="0.9" />
<rect x="472.7" y="219.1" width="78.9" height="142.1" fill="none" stroke="#cfcfcf" stroke-width="0.9" />
<line x1="61.5" y1="347.5" x2="67" y2="347.5" stroke="#444" stroke-width="0.9" />
<text x="51.52" y="351.6" font-size="11.3" font-weight="normal" fill="#222">0</text>
<line x1="61.5" y1="311.7" x2="67" y2="311.7" stroke="#444" stroke-width="0.9" />
<text x="45.31" y="315.8" font-size="11.3" font-weight="normal" fill="#222">25</text>
<line x1="61.5" y1="275.9" x2="67" y2="275.9" stroke="#444" stroke-width="0.9" />
<text x="45.25" y="280" font-size="11.3" font-weight="normal" fill="#222">50</text>
<line x1="61.5" y1="240.1" x2="67" y2="240.1" stroke="#444" stroke-width="0.9" />
<text x="45.31" y="244.2" font-size="11.3" font-weight="normal" fill="#222">75</text>
<text x="71.65" y="233.8" font-size="14" font-weight="normal" font-style="normal" fill="#000" textLength="46.32" lengthAdjust="spacingAndGlyphs">Normal</text>
<rect x="67" y="369.1" width="398" height="149.9" fill="none" stroke="#cfcfcf" stroke-width="0.9" />
<rect x="472.7" y="369.1" width="78.9" height="149.9" fill="none" stroke="#cfcfcf" stroke-width="0.9" />
<line x1="61.5" y1="505.1" x2="67" y2="505.1" stroke="#444" stroke-width="0.9" />
<text x="51.52" y="509.2" font-size="11.3" font-weight="normal" fill="#222">0</text>
<line x1="61.5" y1="466.9" x2="67" y2="466.9" stroke="#444" stroke-width="0.9" />
<text x="45.31" y="471" font-size="11.3" font-weight="normal" fill="#222">25</text>
<line x1="61.5" y1="428.7" x2="67" y2="428.7" stroke="#444" stroke-width="0.9" />
<text x="45.25" y="432.8" font-size="11.3" font-weight="normal" fill="#222">50</text>
<line x1="61.5" y1="390.5" x2="67" y2="390.5" stroke="#444" stroke-width="0.9" />
<text x="45.31" y="394.6" font-size="11.3" font-weight="normal" fill="#222">75</text>
<text x="71.65" y="384.3" font-size="14" font-weight="normal" font-style="normal" fill="#000" textLength="105.87" lengthAdjust="spacingAndGlyphs">Right metastasis</text>
<rect x="67" y="527.1" width="398" height="146.2" fill="none" stroke="#cfcfcf" stroke-width="0.9" />
<rect x="472.7" y="527.1" width="78.9" height="146.2" fill="none" stroke="#cfcfcf" stroke-width="0.9" />
<line x1="61.5" y1="659.6" x2="67" y2="659.6" stroke="#444" stroke-width="0.9" />
<text x="51.52" y="663.7" font-size="11.3" font-weight="normal" fill="#222">0</text>
<line x1="61.5" y1="622.48" x2="67" y2="622.48" stroke="#444" stroke-width="0.9" />
<text x="45.31" y="626.58" font-size="11.3" font-weight="normal" fill="#222">25</text>
<line x1="61.5" y1="585.35" x2="67" y2="585.35" stroke="#444" stroke-width="0.9" />
<text x="45.25" y="589.45" font-size="11.3" font-weight="normal" fill="#222">50</text>
<line x1="61.5" y1="548.23" x2="67" y2="548.23" stroke="#444" stroke-width="0.9" />
<text x="45.31" y="552.33" font-size="11.3" font-weight="normal" fill="#222">75</text>
<text x="71.66" y="541.8" font-size="14" font-weight="normal" font-style="normal" fill="#000" textLength="95.94" lengthAdjust="spacingAndGlyphs">Left metastasis</text>
<line x1="99.5" y1="673.3" x2="99.5" y2="678.3" stroke="#444" stroke-width="0.9" />
<text x="89.98" y="691.5" font-size="11.2" font-weight="normal" fill="#222">123</text>
<line x1="164.84" y1="673.3" x2="164.84" y2="678.3" stroke="#444" stroke-width="0.9" />
<text x="150.67" y="691.5" font-size="11.2" font-weight="normal" fill="#222">123.1</text>
<line x1="230.18" y1="673.3" x2="230.18" y2="678.3" stroke="#444" stroke-width="0.9" />
<text x="216.04" y="691.5" font-size="11.2" font-weight="normal" fill="#222">123.2</text>
<line x1="295.52" y1="673.3" x2="295.52" y2="678.3" stroke="#444" stroke-width="0.9" />
<text x="281.32" y="691.5" font-size="11.2" font-weight="normal" fill="#222">123.3</text>
<line x1="360.86" y1="673.3" x2="360.86" y2="678.3" stroke="#444" stroke-width="0.9" />
<text x="346.61" y="691.5" font-size="11.2" font-weight="normal" fill="#222">123.4</text>
<line x1="426.2" y1="673.3" x2="426.2" y2="678.3" stroke="#444" stroke-width="0.9" />
<text x="412" y="691.5" font-size="11.2" font-weight="normal" fill="#222">123.5</text>
<line x1="476" y1="673.3" x2="476" y2="678.3" stroke="#444" stroke-width="0.9" />
<text x="468.19" y="691.5" font-size="11.2" font-weight="normal" fill="#222">0.0</text>
<line x1="524.2" y1="673.3" x2="524.2" y2="678.3" stroke="#444" stroke-width="0.9" />
<text x="516.44" y="691.5" font-size="11.2" font-weight="normal" fill="#222">0.1</text>
<text x="217.09" y="713.8" font-size="20" font-weight="normal" font-style="normal" fill="#000" textLength="98.12" lengthAdjust="spacingAndGlyphs">chr10 (Mb)</text>
<text x="477.61" y="713.8" font-size="20" font-weight="normal" font-style="normal" fill="#000" textLength="66.18" lengthAdjust="spacingAndGlyphs">Density</text>
<text transform="translate(36.4 507.8) rotate(-90)" x="-1.62" y="0" font-size="20" font-weight="normal" font-style="normal" fill="#000" textLength="130.7" lengthAdjust="spacingAndGlyphs">Barcode count</text>
<text x="17.65" y="237.5" font-size="19.5" font-weight="bold" font-style="normal" fill="#000" textLength="11.73" lengthAdjust="spacingAndGlyphs">b</text>
</svg>
</body></html>
